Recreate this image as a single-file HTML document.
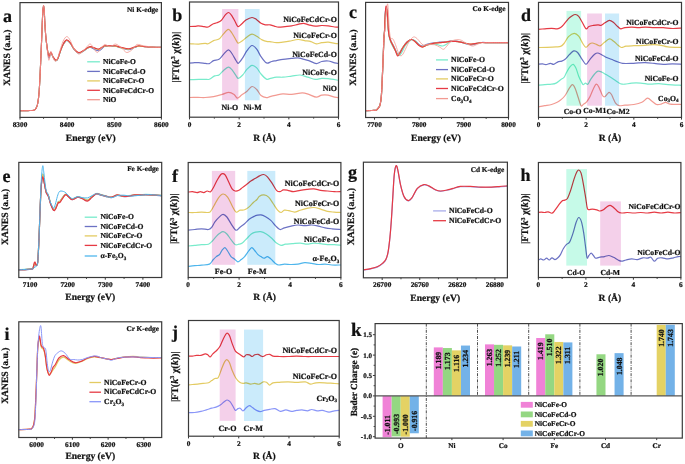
<!DOCTYPE html>
<html><head><meta charset="utf-8"><style>
html,body{margin:0;padding:0;background:#fff;width:685px;height:464px;overflow:hidden}
svg{display:block;filter:blur(0.3px)}
text{font-family:"Liberation Serif",serif;font-weight:bold;text-rendering:geometricPrecision;stroke:#111;stroke-width:0.22px}
</style></head><body>
<svg width="685" height="464" viewBox="0 0 685 464" font-family="Liberation Serif" font-weight="bold">
<rect width="685" height="464" fill="#fff"/>
<clipPath id="cp1"><rect x="20.0" y="2.6" width="141.4" height="114.80000000000001"/></clipPath>
<path d="M20.10,110.80 C21.42,110.77 25.72,110.70 28.00,110.60 C30.28,110.50 32.45,110.60 33.80,110.20 C35.15,109.80 35.45,109.32 36.10,108.20 C36.75,107.08 37.18,106.37 37.70,103.50 C38.22,100.63 38.72,97.62 39.20,91.00 C39.68,84.38 40.20,72.22 40.60,63.80 C41.00,55.38 41.33,46.97 41.60,40.50 C41.87,34.03 42.00,29.75 42.20,25.00 C42.40,20.25 42.57,15.23 42.80,12.00 C43.03,8.77 43.35,5.60 43.60,5.60 C43.85,5.60 44.10,9.27 44.30,12.00 C44.50,14.73 44.55,17.90 44.80,22.00 C45.05,26.10 45.43,32.47 45.80,36.60 C46.17,40.73 46.58,43.78 47.00,46.80 C47.42,49.82 47.92,53.03 48.30,54.70 C48.68,56.37 48.98,56.95 49.30,56.80 C49.62,56.65 49.93,54.48 50.20,53.80 C50.47,53.12 50.60,52.53 50.90,52.70 C51.20,52.87 51.57,53.92 52.00,54.80 C52.43,55.68 52.83,57.02 53.50,58.00 C54.17,58.98 55.25,60.62 56.00,60.70 C56.75,60.78 57.33,59.87 58.00,58.50 C58.67,57.13 59.17,54.77 60.00,52.50 C60.83,50.23 61.88,46.92 63.00,44.90 C64.12,42.88 65.47,40.65 66.70,40.40 C67.93,40.15 69.17,41.92 70.40,43.40 C71.63,44.88 72.73,47.70 74.10,49.30 C75.47,50.90 76.98,52.75 78.60,53.00 C80.22,53.25 82.40,51.55 83.80,50.80 C85.20,50.05 85.88,49.12 87.00,48.50 C88.12,47.88 89.17,47.08 90.50,47.10 C91.83,47.12 93.63,48.18 95.00,48.60 C96.37,49.02 97.62,49.70 98.70,49.60 C99.78,49.50 100.50,48.55 101.50,48.00 C102.50,47.45 103.43,46.58 104.70,46.30 C105.97,46.02 107.37,46.30 109.10,46.30 C110.83,46.30 113.12,46.05 115.10,46.30 C117.08,46.55 118.77,47.30 121.00,47.80 C123.23,48.30 126.27,49.35 128.50,49.30 C130.73,49.25 132.67,48.00 134.40,47.50 C136.13,47.00 137.15,46.45 138.90,46.30 C140.65,46.15 142.92,46.48 144.90,46.60 C146.88,46.72 148.05,46.88 150.80,47.00 C153.55,47.12 159.63,47.25 161.40,47.30" fill="none" stroke="#78EBCB" stroke-width="1.1" stroke-opacity="1.0" stroke-linejoin="round" stroke-linecap="round" clip-path="url(#cp1)" />
<path d="M20.10,110.80 C21.42,110.77 25.72,110.70 28.00,110.60 C30.28,110.50 32.45,110.60 33.80,110.20 C35.15,109.80 35.45,109.32 36.10,108.20 C36.75,107.08 37.18,106.37 37.70,103.50 C38.22,100.63 38.72,97.62 39.20,91.00 C39.68,84.38 40.20,72.22 40.60,63.80 C41.00,55.38 41.33,46.97 41.60,40.50 C41.87,34.03 42.00,29.75 42.20,25.00 C42.40,20.25 42.57,15.23 42.80,12.00 C43.03,8.77 43.35,5.60 43.60,5.60 C43.85,5.60 44.10,9.27 44.30,12.00 C44.50,14.73 44.55,17.90 44.80,22.00 C45.05,26.10 45.43,32.47 45.80,36.60 C46.17,40.73 46.58,43.60 47.00,46.80 C47.42,50.00 47.92,53.95 48.30,55.80 C48.68,57.65 48.98,58.23 49.30,57.90 C49.62,57.57 49.93,54.67 50.20,53.80 C50.47,52.93 50.60,52.53 50.90,52.70 C51.20,52.87 51.57,53.92 52.00,54.80 C52.43,55.68 52.83,57.02 53.50,58.00 C54.17,58.98 55.25,60.62 56.00,60.70 C56.75,60.78 57.33,59.87 58.00,58.50 C58.67,57.13 59.17,54.77 60.00,52.50 C60.83,50.23 61.88,46.92 63.00,44.90 C64.12,42.88 65.47,40.65 66.70,40.40 C67.93,40.15 69.17,41.92 70.40,43.40 C71.63,44.88 72.73,47.70 74.10,49.30 C75.47,50.90 76.98,52.75 78.60,53.00 C80.22,53.25 82.40,51.55 83.80,50.80 C85.20,50.05 85.88,49.12 87.00,48.50 C88.12,47.88 89.17,46.90 90.50,47.10 C91.83,47.30 93.63,49.10 95.00,49.70 C96.37,50.30 97.62,50.80 98.70,50.70 C99.78,50.60 100.50,49.83 101.50,49.10 C102.50,48.37 103.43,46.77 104.70,46.30 C105.97,45.83 107.37,46.30 109.10,46.30 C110.83,46.30 113.12,46.05 115.10,46.30 C117.08,46.55 118.77,47.22 121.00,47.80 C123.23,48.38 126.27,49.85 128.50,49.80 C130.73,49.75 132.67,48.08 134.40,47.50 C136.13,46.92 137.15,46.45 138.90,46.30 C140.65,46.15 142.92,46.48 144.90,46.60 C146.88,46.72 148.05,46.88 150.80,47.00 C153.55,47.12 159.63,47.25 161.40,47.30" fill="none" stroke="#6C72C4" stroke-width="1.1" stroke-opacity="1.0" stroke-linejoin="round" stroke-linecap="round" clip-path="url(#cp1)" />
<path d="M20.10,110.80 C21.42,110.77 25.72,110.70 28.00,110.60 C30.28,110.50 32.45,110.60 33.80,110.20 C35.15,109.80 35.45,109.32 36.10,108.20 C36.75,107.08 37.18,106.37 37.70,103.50 C38.22,100.63 38.72,97.62 39.20,91.00 C39.68,84.38 40.20,72.22 40.60,63.80 C41.00,55.38 41.33,46.97 41.60,40.50 C41.87,34.03 42.00,29.75 42.20,25.00 C42.40,20.25 42.57,15.23 42.80,12.00 C43.03,8.77 43.35,5.60 43.60,5.60 C43.85,5.60 44.10,9.27 44.30,12.00 C44.50,14.73 44.55,17.90 44.80,22.00 C45.05,26.10 45.43,32.50 45.80,36.60 C46.17,40.70 46.58,43.62 47.00,46.60 C47.42,49.58 47.92,52.83 48.30,54.50 C48.68,56.17 48.98,56.75 49.30,56.60 C49.62,56.45 49.93,54.28 50.20,53.60 C50.47,52.92 50.60,52.33 50.90,52.50 C51.20,52.67 51.57,53.72 52.00,54.60 C52.43,55.48 52.83,56.82 53.50,57.80 C54.17,58.78 55.25,60.42 56.00,60.50 C56.75,60.58 57.33,59.67 58.00,58.30 C58.67,56.93 59.17,54.57 60.00,52.30 C60.83,50.03 61.88,46.72 63.00,44.70 C64.12,42.68 65.47,40.45 66.70,40.20 C67.93,39.95 69.17,41.72 70.40,43.20 C71.63,44.68 72.73,47.50 74.10,49.10 C75.47,50.70 76.98,52.55 78.60,52.80 C80.22,53.05 82.40,51.35 83.80,50.60 C85.20,49.85 85.88,48.92 87.00,48.30 C88.12,47.68 89.17,46.88 90.50,46.90 C91.83,46.92 93.63,47.98 95.00,48.40 C96.37,48.82 97.62,49.50 98.70,49.40 C99.78,49.30 100.50,48.35 101.50,47.80 C102.50,47.25 103.43,46.38 104.70,46.10 C105.97,45.82 107.37,46.10 109.10,46.10 C110.83,46.10 113.12,45.85 115.10,46.10 C117.08,46.35 118.77,47.10 121.00,47.60 C123.23,48.10 126.27,49.15 128.50,49.10 C130.73,49.05 132.67,47.80 134.40,47.30 C136.13,46.80 137.15,46.22 138.90,46.10 C140.65,45.98 142.92,46.45 144.90,46.60 C146.88,46.75 148.05,46.88 150.80,47.00 C153.55,47.12 159.63,47.25 161.40,47.30" fill="none" stroke="#E3CB62" stroke-width="1.1" stroke-opacity="1.0" stroke-linejoin="round" stroke-linecap="round" clip-path="url(#cp1)" />
<path d="M20.10,110.80 C21.42,110.77 25.72,110.70 28.00,110.60 C30.28,110.50 32.45,110.60 33.80,110.20 C35.15,109.80 35.45,109.32 36.10,108.20 C36.75,107.08 37.18,106.37 37.70,103.50 C38.22,100.63 38.72,97.62 39.20,91.00 C39.68,84.38 40.20,72.22 40.60,63.80 C41.00,55.38 41.33,46.97 41.60,40.50 C41.87,34.03 42.00,29.75 42.20,25.00 C42.40,20.25 42.57,15.23 42.80,12.00 C43.03,8.77 43.35,5.60 43.60,5.60 C43.85,5.60 44.10,9.27 44.30,12.00 C44.50,14.73 44.55,17.90 44.80,22.00 C45.05,26.10 45.43,32.55 45.80,36.60 C46.17,40.65 46.58,43.37 47.00,46.30 C47.42,49.23 47.92,52.53 48.30,54.20 C48.68,55.87 48.98,56.45 49.30,56.30 C49.62,56.15 49.93,53.98 50.20,53.30 C50.47,52.62 50.60,52.03 50.90,52.20 C51.20,52.37 51.57,53.42 52.00,54.30 C52.43,55.18 52.83,56.52 53.50,57.50 C54.17,58.48 55.25,60.12 56.00,60.20 C56.75,60.28 57.33,59.37 58.00,58.00 C58.67,56.63 59.17,54.27 60.00,52.00 C60.83,49.73 61.88,46.42 63.00,44.40 C64.12,42.38 65.47,40.15 66.70,39.90 C67.93,39.65 69.17,41.42 70.40,42.90 C71.63,44.38 72.73,47.20 74.10,48.80 C75.47,50.40 76.98,52.25 78.60,52.50 C80.22,52.75 82.40,51.05 83.80,50.30 C85.20,49.55 85.88,48.62 87.00,48.00 C88.12,47.38 89.17,46.58 90.50,46.60 C91.83,46.62 93.63,47.68 95.00,48.10 C96.37,48.52 97.62,49.20 98.70,49.10 C99.78,49.00 100.50,48.05 101.50,47.50 C102.50,46.95 103.43,46.08 104.70,45.80 C105.97,45.52 107.37,45.80 109.10,45.80 C110.83,45.80 113.12,45.55 115.10,45.80 C117.08,46.05 118.77,46.80 121.00,47.30 C123.23,47.80 126.27,48.85 128.50,48.80 C130.73,48.75 132.67,47.50 134.40,47.00 C136.13,46.50 137.15,45.87 138.90,45.80 C140.65,45.73 142.92,46.40 144.90,46.60 C146.88,46.80 148.05,46.88 150.80,47.00 C153.55,47.12 159.63,47.25 161.40,47.30" fill="none" stroke="#E63A44" stroke-width="1.1" stroke-opacity="1.0" stroke-linejoin="round" stroke-linecap="round" clip-path="url(#cp1)" />
<path d="M20.10,110.80 C21.42,110.77 25.72,110.70 28.00,110.60 C30.28,110.50 32.45,110.60 33.80,110.20 C35.15,109.80 35.45,109.32 36.10,108.20 C36.75,107.08 37.18,106.37 37.70,103.50 C38.22,100.63 38.72,97.62 39.20,91.00 C39.68,84.38 40.20,72.22 40.60,63.80 C41.00,55.38 41.33,46.97 41.60,40.50 C41.87,34.03 42.00,29.75 42.20,25.00 C42.40,20.25 42.57,15.30 42.80,12.00 C43.03,8.70 43.35,5.20 43.60,5.20 C43.85,5.20 44.10,9.20 44.30,12.00 C44.50,14.80 44.55,17.90 44.80,22.00 C45.05,26.10 45.43,32.35 45.80,36.60 C46.17,40.85 46.60,44.10 47.00,47.50 C47.40,50.90 47.88,54.87 48.20,57.00 C48.52,59.13 48.63,60.30 48.90,60.30 C49.17,60.30 49.47,58.47 49.80,57.00 C50.13,55.53 50.48,51.83 50.90,51.50 C51.32,51.17 51.78,53.58 52.30,55.00 C52.82,56.42 53.38,58.97 54.00,60.00 C54.62,61.03 55.33,61.70 56.00,61.20 C56.67,60.70 57.33,58.78 58.00,57.00 C58.67,55.22 59.13,53.17 60.00,50.50 C60.87,47.83 62.08,43.32 63.20,41.00 C64.32,38.68 65.57,36.77 66.70,36.60 C67.83,36.43 68.85,38.10 70.00,40.00 C71.15,41.90 72.17,45.67 73.60,48.00 C75.03,50.33 76.90,53.58 78.60,54.00 C80.30,54.42 82.32,51.83 83.80,50.50 C85.28,49.17 86.38,47.07 87.50,46.00 C88.62,44.93 89.42,43.68 90.50,44.10 C91.58,44.52 92.88,47.10 94.00,48.50 C95.12,49.90 96.03,52.50 97.20,52.50 C98.37,52.50 99.75,49.85 101.00,48.50 C102.25,47.15 103.35,44.72 104.70,44.40 C106.05,44.08 107.80,46.42 109.10,46.60 C110.40,46.78 111.38,45.92 112.50,45.50 C113.62,45.08 114.38,43.80 115.80,44.10 C117.22,44.40 119.63,46.23 121.00,47.30 C122.37,48.37 123.00,49.63 124.00,50.50 C125.00,51.37 125.75,52.53 127.00,52.50 C128.25,52.47 130.25,51.22 131.50,50.30 C132.75,49.38 133.52,47.98 134.50,47.00 C135.48,46.02 135.92,44.60 137.40,44.40 C138.88,44.20 140.92,45.37 143.40,45.80 C145.88,46.23 149.30,46.75 152.30,47.00 C155.30,47.25 159.88,47.25 161.40,47.30" fill="none" stroke="#F29A92" stroke-width="0.8" stroke-opacity="1.0" stroke-linejoin="round" stroke-linecap="round" clip-path="url(#cp1)" />
<rect x="20.00" y="2.60" width="141.40" height="114.80" fill="none" stroke="#3a3a3a" stroke-width="1.2"/>
<line x1="20.00" y1="117.40" x2="20.00" y2="119.60" stroke="#3a3a3a" stroke-width="1"/>
<text x="20.00" y="127.20" font-size="7.3" text-anchor="middle" fill="#111" >8300</text>
<line x1="67.13" y1="117.40" x2="67.13" y2="119.60" stroke="#3a3a3a" stroke-width="1"/>
<text x="67.13" y="127.20" font-size="7.3" text-anchor="middle" fill="#111" >8400</text>
<line x1="114.27" y1="117.40" x2="114.27" y2="119.60" stroke="#3a3a3a" stroke-width="1"/>
<text x="114.27" y="127.20" font-size="7.3" text-anchor="middle" fill="#111" >8500</text>
<line x1="161.40" y1="117.40" x2="161.40" y2="119.60" stroke="#3a3a3a" stroke-width="1"/>
<text x="161.40" y="127.20" font-size="7.3" text-anchor="middle" fill="#111" >8600</text>
<line x1="43.57" y1="117.40" x2="43.57" y2="118.90" stroke="#3a3a3a" stroke-width="0.9"/>
<line x1="90.70" y1="117.40" x2="90.70" y2="118.90" stroke="#3a3a3a" stroke-width="0.9"/>
<line x1="137.83" y1="117.40" x2="137.83" y2="118.90" stroke="#3a3a3a" stroke-width="0.9"/>
<text x="158.30" y="11.70" font-size="7.25" text-anchor="end" fill="#111" >Ni K-edge</text>
<line x1="87.2" y1="61.8" x2="99.9" y2="61.8" stroke="#78EBCB" stroke-width="1.3"/>
<text x="103.00" y="64.00" font-size="7.5" text-anchor="start" fill="#111" >NiCoFe-O</text>
<line x1="87.2" y1="71.4" x2="99.9" y2="71.4" stroke="#6C72C4" stroke-width="1.3"/>
<text x="103.00" y="73.60" font-size="7.5" text-anchor="start" fill="#111" >NiCoFeCd-O</text>
<line x1="87.2" y1="80.9" x2="99.9" y2="80.9" stroke="#E3CB62" stroke-width="1.3"/>
<text x="103.00" y="83.10" font-size="7.5" text-anchor="start" fill="#111" >NiCoFeCr-O</text>
<line x1="87.2" y1="90.3" x2="99.9" y2="90.3" stroke="#E63A44" stroke-width="1.3"/>
<text x="103.00" y="92.50" font-size="7.5" text-anchor="start" fill="#111" >NiCoFeCdCr-O</text>
<line x1="87.2" y1="99.7" x2="99.9" y2="99.7" stroke="#F29A92" stroke-width="1.3"/>
<text x="103.00" y="101.90" font-size="7.5" text-anchor="start" fill="#111" >NiO</text>
<text x="3.00" y="21.50" font-size="18" text-anchor="start" fill="#111" >a</text>
<text x="90.70" y="141.00" font-size="9.6" text-anchor="middle" fill="#111" >Energy (eV)</text>
<text x="0" y="0" font-size="9.6" text-anchor="middle" transform="translate(10.10,57.60) rotate(-90)" fill="#111" >XANES (a.u.)</text>
<clipPath id="cp2"><rect x="189.5" y="2.0" width="149.0" height="115.2"/></clipPath>
<path d="M188.00,97.50 C189.67,97.48 195.17,97.40 198.00,97.40 C200.83,97.40 202.40,97.63 205.00,97.50 C207.60,97.37 210.73,97.12 213.60,96.60 C216.47,96.08 219.68,95.12 222.20,94.40 C224.72,93.68 226.72,92.30 228.70,92.30 C230.68,92.30 232.67,93.43 234.10,94.40 C235.53,95.37 236.05,97.98 237.30,98.10 C238.55,98.22 239.98,96.25 241.60,95.10 C243.22,93.95 245.27,92.63 247.00,91.20 C248.73,89.77 250.38,86.78 252.00,86.50 C253.62,86.22 255.20,88.00 256.70,89.50 C258.20,91.00 259.38,94.13 261.00,95.50 C262.62,96.87 264.90,97.52 266.40,97.70 C267.90,97.88 268.32,97.03 270.00,96.60 C271.68,96.17 274.35,95.57 276.50,95.10 C278.65,94.63 280.38,93.92 282.90,93.80 C285.42,93.68 288.37,94.55 291.60,94.40 C294.83,94.25 299.43,92.90 302.30,92.90 C305.17,92.90 306.47,93.68 308.80,94.40 C311.13,95.12 314.15,97.08 316.30,97.20 C318.45,97.32 319.72,95.45 321.70,95.10 C323.68,94.75 326.03,94.75 328.20,95.10 C330.37,95.45 332.90,96.77 334.70,97.20 C336.50,97.63 338.28,97.62 339.00,97.70" fill="none" stroke="#F29A92" stroke-width="1.2" stroke-opacity="1.0" stroke-linejoin="round" stroke-linecap="round" clip-path="url(#cp2)" />
<path d="M188.00,79.80 C188.83,79.77 191.20,79.67 193.00,79.60 C194.80,79.53 196.77,79.45 198.80,79.40 C200.83,79.35 203.45,79.32 205.20,79.30 C206.95,79.28 207.72,79.87 209.30,79.30 C210.88,78.73 213.08,76.62 214.70,75.90 C216.32,75.18 217.57,75.87 219.00,75.00 C220.43,74.13 221.75,72.02 223.30,70.70 C224.85,69.38 226.87,67.27 228.30,67.10 C229.73,66.93 230.57,68.20 231.90,69.70 C233.23,71.20 235.22,74.67 236.30,76.10 C237.38,77.53 237.33,78.48 238.40,78.30 C239.47,78.12 241.27,76.52 242.70,75.00 C244.13,73.48 245.45,70.82 247.00,69.20 C248.55,67.58 250.38,65.52 252.00,65.30 C253.62,65.08 255.20,66.45 256.70,67.90 C258.20,69.35 259.38,72.13 261.00,74.00 C262.62,75.87 264.95,78.33 266.40,79.10 C267.85,79.87 268.02,78.92 269.70,78.60 C271.38,78.28 274.30,77.43 276.50,77.20 C278.70,76.97 280.38,77.38 282.90,77.20 C285.42,77.02 288.72,76.47 291.60,76.10 C294.48,75.73 297.52,74.82 300.20,75.00 C302.88,75.18 305.18,76.47 307.70,77.20 C310.22,77.93 312.97,79.22 315.30,79.40 C317.63,79.58 319.55,78.42 321.70,78.30 C323.85,78.18 325.32,78.35 328.20,78.70 C331.08,79.05 337.20,80.12 339.00,80.40" fill="none" stroke="#78EBCB" stroke-width="1.2" stroke-opacity="1.0" stroke-linejoin="round" stroke-linecap="round" clip-path="url(#cp2)" />
<path d="M188.00,63.10 C188.83,63.05 191.20,62.88 193.00,62.80 C194.80,62.72 196.77,62.52 198.80,62.60 C200.83,62.68 203.45,63.13 205.20,63.30 C206.95,63.47 207.90,64.05 209.30,63.60 C210.70,63.15 211.98,61.32 213.60,60.60 C215.22,59.88 217.38,60.30 219.00,59.30 C220.62,58.30 221.75,56.18 223.30,54.60 C224.85,53.02 226.87,49.98 228.30,49.80 C229.73,49.62 230.57,51.63 231.90,53.50 C233.23,55.37 235.22,59.38 236.30,61.00 C237.38,62.62 237.33,63.73 238.40,63.20 C239.47,62.67 241.27,59.88 242.70,57.80 C244.13,55.72 245.45,52.75 247.00,50.70 C248.55,48.65 250.38,45.75 252.00,45.50 C253.62,45.25 255.20,47.33 256.70,49.20 C258.20,51.07 259.57,54.55 261.00,56.70 C262.43,58.85 264.22,61.02 265.30,62.10 C266.38,63.18 266.42,63.30 267.50,63.20 C268.58,63.10 270.30,61.93 271.80,61.50 C273.30,61.07 274.65,60.97 276.50,60.60 C278.35,60.23 280.38,59.67 282.90,59.30 C285.42,58.93 289.08,58.65 291.60,58.40 C294.12,58.15 296.22,57.72 298.00,57.80 C299.78,57.88 300.50,58.43 302.30,58.90 C304.10,59.37 306.47,59.82 308.80,60.60 C311.13,61.38 314.15,63.45 316.30,63.60 C318.45,63.75 319.72,61.93 321.70,61.50 C323.68,61.07 326.03,60.78 328.20,61.00 C330.37,61.22 332.90,62.37 334.70,62.80 C336.50,63.23 338.28,63.47 339.00,63.60" fill="none" stroke="#6C72C4" stroke-width="1.2" stroke-opacity="1.0" stroke-linejoin="round" stroke-linecap="round" clip-path="url(#cp2)" />
<path d="M188.00,43.70 C188.83,43.73 191.20,43.83 193.00,43.90 C194.80,43.97 196.77,44.20 198.80,44.10 C200.83,44.00 203.63,43.35 205.20,43.30 C206.77,43.25 206.80,44.25 208.20,43.80 C209.60,43.35 211.80,41.38 213.60,40.60 C215.40,39.82 217.38,40.18 219.00,39.10 C220.62,38.02 221.75,35.72 223.30,34.10 C224.85,32.48 226.87,29.58 228.30,29.40 C229.73,29.22 230.57,31.13 231.90,33.00 C233.23,34.87 235.22,38.92 236.30,40.60 C237.38,42.28 237.33,43.10 238.40,43.10 C239.47,43.10 241.27,41.63 242.70,40.60 C244.13,39.57 245.45,37.98 247.00,36.90 C248.55,35.82 250.38,34.20 252.00,34.10 C253.62,34.00 255.02,35.33 256.70,36.30 C258.38,37.27 260.30,39.02 262.10,39.90 C263.90,40.78 266.18,41.32 267.50,41.60 C268.82,41.88 268.50,41.42 270.00,41.60 C271.50,41.78 274.35,42.62 276.50,42.70 C278.65,42.78 280.75,42.35 282.90,42.10 C285.05,41.85 286.88,41.63 289.40,41.20 C291.92,40.77 295.48,39.60 298.00,39.50 C300.52,39.40 302.35,40.25 304.50,40.60 C306.65,40.95 308.93,41.07 310.90,41.60 C312.87,42.13 314.50,43.62 316.30,43.80 C318.10,43.98 319.72,42.98 321.70,42.70 C323.68,42.42 326.03,41.98 328.20,42.10 C330.37,42.22 332.90,43.12 334.70,43.40 C336.50,43.68 338.28,43.73 339.00,43.80" fill="none" stroke="#E3CB62" stroke-width="1.2" stroke-opacity="1.0" stroke-linejoin="round" stroke-linecap="round" clip-path="url(#cp2)" />
<path d="M188.00,26.50 C189.08,26.48 192.83,26.50 194.50,26.40 C196.17,26.30 196.93,25.95 198.00,25.90 C199.07,25.85 199.88,25.98 200.90,26.10 C201.92,26.22 202.88,26.45 204.10,26.60 C205.32,26.75 206.80,27.40 208.20,27.00 C209.60,26.60 211.05,24.90 212.50,24.20 C213.95,23.50 215.45,23.42 216.90,22.80 C218.35,22.18 219.77,21.85 221.20,20.50 C222.63,19.15 224.25,16.03 225.50,14.70 C226.75,13.37 227.63,12.32 228.70,12.50 C229.77,12.68 230.82,14.25 231.90,15.80 C232.98,17.35 234.18,20.00 235.20,21.80 C236.22,23.60 236.93,26.23 238.00,26.60 C239.07,26.97 240.28,25.08 241.60,24.00 C242.92,22.92 244.17,21.18 245.90,20.10 C247.63,19.02 250.20,17.57 252.00,17.50 C253.80,17.43 255.20,18.73 256.70,19.70 C258.20,20.67 259.57,22.45 261.00,23.30 C262.43,24.15 263.80,24.55 265.30,24.80 C266.80,25.05 268.50,24.58 270.00,24.80 C271.50,25.02 272.87,25.70 274.30,26.10 C275.73,26.50 276.80,27.12 278.60,27.20 C280.40,27.28 282.93,26.82 285.10,26.60 C287.27,26.38 289.45,26.27 291.60,25.90 C293.75,25.53 296.03,24.83 298.00,24.40 C299.97,23.97 301.60,23.23 303.40,23.30 C305.20,23.37 306.82,24.33 308.80,24.80 C310.78,25.27 313.15,25.98 315.30,26.10 C317.45,26.22 319.55,25.53 321.70,25.50 C323.85,25.47 326.03,25.65 328.20,25.90 C330.37,26.15 332.90,26.78 334.70,27.00 C336.50,27.22 338.28,27.17 339.00,27.20" fill="none" stroke="#E63A44" stroke-width="1.2" stroke-opacity="1.0" stroke-linejoin="round" stroke-linecap="round" clip-path="url(#cp2)" />
<rect x="222.10" y="9.00" width="16.30" height="91.30" fill="#F4D0EA" style="mix-blend-mode:multiply"/>
<rect x="244.90" y="9.00" width="14.70" height="91.30" fill="#CBEBFB" style="mix-blend-mode:multiply"/>
<rect x="189.50" y="2.00" width="149.00" height="115.20" fill="none" stroke="#3a3a3a" stroke-width="1.2"/>
<line x1="189.50" y1="117.20" x2="189.50" y2="119.40" stroke="#3a3a3a" stroke-width="1"/>
<text x="189.50" y="127.00" font-size="7.3" text-anchor="middle" fill="#111" >0</text>
<line x1="239.17" y1="117.20" x2="239.17" y2="119.40" stroke="#3a3a3a" stroke-width="1"/>
<text x="239.17" y="127.00" font-size="7.3" text-anchor="middle" fill="#111" >2</text>
<line x1="288.83" y1="117.20" x2="288.83" y2="119.40" stroke="#3a3a3a" stroke-width="1"/>
<text x="288.83" y="127.00" font-size="7.3" text-anchor="middle" fill="#111" >4</text>
<line x1="338.50" y1="117.20" x2="338.50" y2="119.40" stroke="#3a3a3a" stroke-width="1"/>
<text x="338.50" y="127.00" font-size="7.3" text-anchor="middle" fill="#111" >6</text>
<line x1="214.33" y1="117.20" x2="214.33" y2="118.70" stroke="#3a3a3a" stroke-width="0.9"/>
<line x1="264.00" y1="117.20" x2="264.00" y2="118.70" stroke="#3a3a3a" stroke-width="0.9"/>
<line x1="313.67" y1="117.20" x2="313.67" y2="118.70" stroke="#3a3a3a" stroke-width="0.9"/>
<text x="336.90" y="21.60" font-size="7.9" text-anchor="end" fill="#111" >NiCoFeCdCr-O</text>
<text x="336.90" y="38.20" font-size="7.9" text-anchor="end" fill="#111" >NiCoFeCr-O</text>
<text x="336.90" y="56.60" font-size="7.9" text-anchor="end" fill="#111" >NiCoFeCd-O</text>
<text x="336.90" y="74.60" font-size="7.9" text-anchor="end" fill="#111" >NiCoFe-O</text>
<text x="336.90" y="91.00" font-size="7.9" text-anchor="end" fill="#111" >NiO</text>
<text x="229.90" y="110.00" font-size="7.9" text-anchor="middle" fill="#111" >Ni-O</text>
<text x="252.60" y="110.00" font-size="7.9" text-anchor="middle" fill="#111" >Ni-M</text>
<text x="172.30" y="20.70" font-size="18" text-anchor="start" fill="#111" >b</text>
<text x="264.50" y="140.80" font-size="9.6" text-anchor="middle" fill="#111" >R (Å)</text>
<text x="0" y="0" font-size="10" text-anchor="middle" transform="translate(178.60,57.20) rotate(-90)" fill="#111" >|FT(<tspan font-style="italic">k</tspan><tspan font-size="6" dy="-3.5">3</tspan><tspan dy="3.5"> χ(</tspan><tspan font-style="italic">k</tspan>))|</text>
<clipPath id="cp3"><rect x="365.6" y="2.4" width="142.89999999999998" height="115.1"/></clipPath>
<path d="M365.60,110.60 C366.67,110.58 370.27,110.57 372.00,110.50 C373.73,110.43 375.00,110.57 376.00,110.20 C377.00,109.83 377.38,109.00 378.00,108.30 C378.62,107.60 379.27,107.05 379.70,106.00 C380.13,104.95 380.30,104.00 380.60,102.00 C380.90,100.00 381.13,99.90 381.50,94.00 C381.87,88.10 382.40,75.75 382.80,66.60 C383.20,57.45 383.60,45.20 383.90,39.10 C384.20,33.00 384.38,34.02 384.60,30.00 C384.82,25.98 384.97,18.58 385.20,15.00 C385.43,11.42 385.73,9.33 386.00,8.50 C386.27,7.67 386.52,8.08 386.80,10.00 C387.08,11.92 387.43,16.50 387.70,20.00 C387.97,23.50 388.15,28.17 388.40,31.00 C388.65,33.83 388.82,35.17 389.20,37.00 C389.58,38.83 390.00,40.25 390.70,42.00 C391.40,43.75 392.52,45.92 393.40,47.50 C394.28,49.08 395.07,50.15 396.00,51.50 C396.93,52.85 398.00,55.52 399.00,55.60 C400.00,55.68 401.00,53.60 402.00,52.00 C403.00,50.40 403.83,47.75 405.00,46.00 C406.17,44.25 407.75,42.58 409.00,41.50 C410.25,40.42 411.33,39.50 412.50,39.50 C413.67,39.50 414.83,40.50 416.00,41.50 C417.17,42.50 418.33,44.67 419.50,45.50 C420.67,46.33 421.75,46.55 423.00,46.50 C424.25,46.45 425.43,45.62 427.00,45.20 C428.57,44.78 430.73,44.12 432.40,44.00 C434.07,43.88 435.35,44.17 437.00,44.50 C438.65,44.83 440.80,46.00 442.30,46.00 C443.80,46.00 444.68,45.20 446.00,44.50 C447.32,43.80 448.62,42.32 450.20,41.80 C451.78,41.28 453.75,41.35 455.50,41.40 C457.25,41.45 458.95,41.73 460.70,42.10 C462.45,42.47 464.25,43.20 466.00,43.60 C467.75,44.00 469.45,44.53 471.20,44.50 C472.95,44.47 474.73,43.73 476.50,43.40 C478.27,43.07 479.83,42.62 481.80,42.50 C483.77,42.38 485.90,42.67 488.30,42.70 C490.70,42.73 492.75,42.70 496.20,42.70 C499.65,42.70 506.87,42.70 509.00,42.70" fill="none" stroke="#78EBCB" stroke-width="1.2" stroke-opacity="1.0" stroke-linejoin="round" stroke-linecap="round" clip-path="url(#cp3)" />
<path d="M365.60,110.60 C366.67,110.58 370.27,110.57 372.00,110.50 C373.73,110.43 375.00,110.57 376.00,110.20 C377.00,109.83 377.38,109.00 378.00,108.30 C378.62,107.60 379.27,107.05 379.70,106.00 C380.13,104.95 380.30,104.00 380.60,102.00 C380.90,100.00 381.13,99.90 381.50,94.00 C381.87,88.10 382.40,75.75 382.80,66.60 C383.20,57.45 383.60,45.20 383.90,39.10 C384.20,33.00 384.38,34.02 384.60,30.00 C384.82,25.98 384.97,18.50 385.20,15.00 C385.43,11.50 385.73,9.83 386.00,9.00 C386.27,8.17 386.52,8.33 386.80,10.00 C387.08,11.67 387.43,15.67 387.70,19.00 C387.97,22.33 388.15,27.17 388.40,30.00 C388.65,32.83 388.82,34.25 389.20,36.00 C389.58,37.75 390.00,38.92 390.70,40.50 C391.40,42.08 392.60,43.92 393.40,45.50 C394.20,47.08 394.78,48.50 395.50,50.00 C396.22,51.50 396.95,54.17 397.70,54.50 C398.45,54.83 399.12,53.25 400.00,52.00 C400.88,50.75 401.83,48.67 403.00,47.00 C404.17,45.33 405.63,43.25 407.00,42.00 C408.37,40.75 409.87,39.62 411.20,39.50 C412.53,39.38 413.70,40.42 415.00,41.30 C416.30,42.18 417.73,43.98 419.00,44.80 C420.27,45.62 421.27,46.28 422.60,46.20 C423.93,46.12 425.37,44.83 427.00,44.30 C428.63,43.77 430.28,43.35 432.40,43.00 C434.52,42.65 437.60,42.40 439.70,42.20 C441.80,42.00 443.25,41.97 445.00,41.80 C446.75,41.63 448.45,41.30 450.20,41.20 C451.95,41.10 453.75,41.05 455.50,41.20 C457.25,41.35 458.95,41.70 460.70,42.10 C462.45,42.50 464.25,43.15 466.00,43.60 C467.75,44.05 469.45,44.80 471.20,44.80 C472.95,44.80 474.73,43.98 476.50,43.60 C478.27,43.22 479.83,42.65 481.80,42.50 C483.77,42.35 485.90,42.67 488.30,42.70 C490.70,42.73 492.75,42.70 496.20,42.70 C499.65,42.70 506.87,42.70 509.00,42.70" fill="none" stroke="#6C72C4" stroke-width="1.2" stroke-opacity="1.0" stroke-linejoin="round" stroke-linecap="round" clip-path="url(#cp3)" />
<path d="M365.60,110.60 C366.67,110.58 370.27,110.57 372.00,110.50 C373.73,110.43 375.00,110.57 376.00,110.20 C377.00,109.83 377.38,109.00 378.00,108.30 C378.62,107.60 379.27,107.05 379.70,106.00 C380.13,104.95 380.30,104.00 380.60,102.00 C380.90,100.00 381.13,99.90 381.50,94.00 C381.87,88.10 382.40,75.75 382.80,66.60 C383.20,57.45 383.60,45.20 383.90,39.10 C384.20,33.00 384.38,33.85 384.60,30.00 C384.82,26.15 384.98,19.17 385.20,16.00 C385.42,12.83 385.63,12.00 385.90,11.00 C386.17,10.00 386.50,8.83 386.80,10.00 C387.10,11.17 387.43,14.67 387.70,18.00 C387.97,21.33 388.15,27.00 388.40,30.00 C388.65,33.00 388.82,34.17 389.20,36.00 C389.58,37.83 390.00,39.30 390.70,41.00 C391.40,42.70 392.60,44.62 393.40,46.20 C394.20,47.78 394.78,49.00 395.50,50.50 C396.22,52.00 396.95,54.87 397.70,55.20 C398.45,55.53 399.12,53.83 400.00,52.50 C400.88,51.17 401.83,48.92 403.00,47.20 C404.17,45.48 405.63,43.48 407.00,42.20 C408.37,40.92 409.87,39.62 411.20,39.50 C412.53,39.38 413.70,40.53 415.00,41.50 C416.30,42.47 417.73,44.42 419.00,45.30 C420.27,46.18 421.27,46.85 422.60,46.80 C423.93,46.75 425.37,45.53 427.00,45.00 C428.63,44.47 430.28,43.98 432.40,43.60 C434.52,43.22 437.60,42.95 439.70,42.70 C441.80,42.45 443.25,42.32 445.00,42.10 C446.75,41.88 448.45,41.52 450.20,41.40 C451.95,41.28 453.75,41.28 455.50,41.40 C457.25,41.52 458.95,41.77 460.70,42.10 C462.45,42.43 464.25,43.07 466.00,43.40 C467.75,43.73 469.45,44.10 471.20,44.10 C472.95,44.10 474.73,43.67 476.50,43.40 C478.27,43.13 479.83,42.62 481.80,42.50 C483.77,42.38 485.90,42.67 488.30,42.70 C490.70,42.73 492.75,42.70 496.20,42.70 C499.65,42.70 506.87,42.70 509.00,42.70" fill="none" stroke="#E3CB62" stroke-width="1.2" stroke-opacity="1.0" stroke-linejoin="round" stroke-linecap="round" clip-path="url(#cp3)" />
<path d="M365.60,110.60 C366.67,110.58 370.27,110.57 372.00,110.50 C373.73,110.43 375.00,110.57 376.00,110.20 C377.00,109.83 377.38,109.00 378.00,108.30 C378.62,107.60 379.27,107.05 379.70,106.00 C380.13,104.95 380.30,104.00 380.60,102.00 C380.90,100.00 381.13,99.90 381.50,94.00 C381.87,88.10 382.40,75.75 382.80,66.60 C383.20,57.45 383.60,45.20 383.90,39.10 C384.20,33.00 384.38,34.02 384.60,30.00 C384.82,25.98 384.98,18.87 385.20,15.00 C385.42,11.13 385.63,7.97 385.90,6.80 C386.17,5.63 386.50,6.13 386.80,8.00 C387.10,9.87 387.43,14.33 387.70,18.00 C387.97,21.67 388.15,27.00 388.40,30.00 C388.65,33.00 388.82,34.17 389.20,36.00 C389.58,37.83 390.00,39.25 390.70,41.00 C391.40,42.75 392.60,44.83 393.40,46.50 C394.20,48.17 394.78,49.42 395.50,51.00 C396.22,52.58 396.95,55.67 397.70,56.00 C398.45,56.33 399.12,54.42 400.00,53.00 C400.88,51.58 401.83,49.28 403.00,47.50 C404.17,45.72 405.63,43.63 407.00,42.30 C408.37,40.97 409.87,39.63 411.20,39.50 C412.53,39.37 413.70,40.50 415.00,41.50 C416.30,42.50 417.73,44.57 419.00,45.50 C420.27,46.43 421.27,47.18 422.60,47.10 C423.93,47.02 425.37,45.58 427.00,45.00 C428.63,44.42 430.28,43.98 432.40,43.60 C434.52,43.22 437.60,42.95 439.70,42.70 C441.80,42.45 443.25,42.32 445.00,42.10 C446.75,41.88 448.45,41.52 450.20,41.40 C451.95,41.28 453.75,41.28 455.50,41.40 C457.25,41.52 458.95,41.77 460.70,42.10 C462.45,42.43 464.25,43.07 466.00,43.40 C467.75,43.73 469.45,44.10 471.20,44.10 C472.95,44.10 474.73,43.67 476.50,43.40 C478.27,43.13 479.83,42.62 481.80,42.50 C483.77,42.38 485.90,42.67 488.30,42.70 C490.70,42.73 492.75,42.70 496.20,42.70 C499.65,42.70 506.87,42.70 509.00,42.70" fill="none" stroke="#E63A44" stroke-width="1.2" stroke-opacity="1.0" stroke-linejoin="round" stroke-linecap="round" clip-path="url(#cp3)" />
<path d="M365.60,110.60 C366.67,110.58 370.27,110.57 372.00,110.50 C373.73,110.43 375.00,110.57 376.00,110.20 C377.00,109.83 377.38,109.00 378.00,108.30 C378.62,107.60 379.27,107.05 379.70,106.00 C380.13,104.95 380.30,104.00 380.60,102.00 C380.90,100.00 381.13,99.90 381.50,94.00 C381.87,88.10 382.40,75.75 382.80,66.60 C383.20,57.45 383.65,44.37 383.90,39.10 C384.15,33.83 384.07,37.35 384.30,35.00 C384.53,32.65 384.97,28.83 385.30,25.00 C385.63,21.17 385.98,15.33 386.30,12.00 C386.62,8.67 386.95,6.25 387.20,5.00 C387.45,3.75 387.60,3.33 387.80,4.50 C388.00,5.67 388.20,8.58 388.40,12.00 C388.60,15.42 388.77,21.33 389.00,25.00 C389.23,28.67 389.48,31.75 389.80,34.00 C390.12,36.25 390.48,37.75 390.90,38.50 C391.32,39.25 391.80,38.13 392.30,38.50 C392.80,38.87 393.28,39.45 393.90,40.70 C394.52,41.95 395.23,43.95 396.00,46.00 C396.77,48.05 397.72,51.37 398.50,53.00 C399.28,54.63 399.95,55.63 400.70,55.80 C401.45,55.97 402.12,55.30 403.00,54.00 C403.88,52.70 404.92,50.17 406.00,48.00 C407.08,45.83 408.25,42.83 409.50,41.00 C410.75,39.17 412.25,37.42 413.50,37.00 C414.75,36.58 415.83,37.58 417.00,38.50 C418.17,39.42 419.45,41.42 420.50,42.50 C421.55,43.58 422.07,44.63 423.30,45.00 C424.53,45.37 426.03,44.75 427.90,44.70 C429.77,44.65 432.53,44.30 434.50,44.70 C436.47,45.10 438.22,46.33 439.70,47.10 C441.18,47.87 442.30,49.37 443.40,49.30 C444.50,49.23 445.17,47.90 446.30,46.70 C447.43,45.50 448.88,43.20 450.20,42.10 C451.52,41.00 452.67,40.50 454.20,40.10 C455.73,39.70 457.87,39.48 459.40,39.70 C460.93,39.92 462.08,40.67 463.40,41.40 C464.72,42.13 465.77,43.33 467.30,44.10 C468.83,44.87 471.07,45.90 472.60,46.00 C474.13,46.10 475.20,45.18 476.50,44.70 C477.80,44.22 478.87,43.43 480.40,43.10 C481.93,42.77 483.50,42.77 485.70,42.70 C487.90,42.63 489.72,42.70 493.60,42.70 C497.48,42.70 506.43,42.70 509.00,42.70" fill="none" stroke="#F29A92" stroke-width="0.8" stroke-opacity="1.0" stroke-linejoin="round" stroke-linecap="round" clip-path="url(#cp3)" />
<rect x="365.60" y="2.40" width="142.90" height="115.10" fill="none" stroke="#3a3a3a" stroke-width="1.2"/>
<line x1="374.53" y1="117.50" x2="374.53" y2="119.70" stroke="#3a3a3a" stroke-width="1"/>
<text x="374.53" y="127.20" font-size="7.3" text-anchor="middle" fill="#111" >7700</text>
<line x1="419.19" y1="117.50" x2="419.19" y2="119.70" stroke="#3a3a3a" stroke-width="1"/>
<text x="419.19" y="127.20" font-size="7.3" text-anchor="middle" fill="#111" >7800</text>
<line x1="463.84" y1="117.50" x2="463.84" y2="119.70" stroke="#3a3a3a" stroke-width="1"/>
<text x="463.84" y="127.20" font-size="7.3" text-anchor="middle" fill="#111" >7900</text>
<line x1="508.50" y1="117.50" x2="508.50" y2="119.70" stroke="#3a3a3a" stroke-width="1"/>
<text x="508.50" y="127.20" font-size="7.3" text-anchor="middle" fill="#111" >8000</text>
<line x1="396.86" y1="117.50" x2="396.86" y2="119.00" stroke="#3a3a3a" stroke-width="0.9"/>
<line x1="441.52" y1="117.50" x2="441.52" y2="119.00" stroke="#3a3a3a" stroke-width="0.9"/>
<line x1="486.17" y1="117.50" x2="486.17" y2="119.00" stroke="#3a3a3a" stroke-width="0.9"/>
<text x="505.50" y="11.20" font-size="7.3" text-anchor="end" fill="#111" >Co K-edge</text>
<line x1="436.0" y1="59.9" x2="448" y2="59.9" stroke="#78EBCB" stroke-width="1.3"/>
<text x="451.10" y="62.10" font-size="7.75" text-anchor="start" fill="#111" >NiCoFe-O</text>
<line x1="436.0" y1="69.6" x2="448" y2="69.6" stroke="#6C72C4" stroke-width="1.3"/>
<text x="451.10" y="71.80" font-size="7.75" text-anchor="start" fill="#111" >NiCoFeCd-O</text>
<line x1="436.0" y1="78.9" x2="448" y2="78.9" stroke="#E3CB62" stroke-width="1.3"/>
<text x="451.10" y="81.10" font-size="7.75" text-anchor="start" fill="#111" >NiCoFeCr-O</text>
<line x1="436.0" y1="88.5" x2="448" y2="88.5" stroke="#E63A44" stroke-width="1.3"/>
<text x="451.10" y="90.70" font-size="7.75" text-anchor="start" fill="#111" >NiCoFeCdCr-O</text>
<line x1="436.0" y1="98.6" x2="448" y2="98.6" stroke="#F29A92" stroke-width="1.3"/>
<text x="451.10" y="100.80" font-size="7.75" text-anchor="start" fill="#111" >Co<tspan font-size="5" dy="1.8">3</tspan><tspan dy="-1.8">O</tspan><tspan font-size="5" dy="1.8">4</tspan></text>
<text x="349.00" y="18.20" font-size="18" text-anchor="start" fill="#111" >c</text>
<text x="436.00" y="141.20" font-size="9.6" text-anchor="middle" fill="#111" >Energy (eV)</text>
<text x="0" y="0" font-size="9.6" text-anchor="middle" transform="translate(355.70,57.50) rotate(-90)" fill="#111" >XANES (a.u.)</text>
<clipPath id="cp4"><rect x="538.5" y="2.4" width="143.0" height="115.0"/></clipPath>
<path d="M538.00,106.80 C539.13,106.62 542.53,106.08 544.80,105.70 C547.07,105.32 549.53,105.07 551.60,104.50 C553.67,103.93 555.70,103.05 557.20,102.30 C558.70,101.55 559.28,101.13 560.60,100.00 C561.92,98.87 563.58,97.57 565.10,95.50 C566.62,93.43 568.45,89.42 569.70,87.60 C570.95,85.78 571.67,84.42 572.60,84.60 C573.53,84.78 574.35,86.50 575.30,88.70 C576.25,90.90 577.35,94.97 578.30,97.80 C579.25,100.63 580.18,104.58 581.00,105.70 C581.82,106.82 582.27,105.15 583.20,104.50 C584.13,103.85 585.47,103.12 586.60,101.80 C587.73,100.48 588.87,98.78 590.00,96.60 C591.13,94.42 592.33,90.77 593.40,88.70 C594.47,86.63 595.45,84.38 596.40,84.20 C597.35,84.02 598.08,85.72 599.10,87.60 C600.12,89.48 601.57,93.97 602.50,95.50 C603.43,97.03 603.90,97.05 604.70,96.80 C605.50,96.55 606.55,94.75 607.30,94.00 C608.05,93.25 608.50,92.22 609.20,92.30 C609.90,92.38 610.78,93.38 611.50,94.50 C612.22,95.62 612.78,97.52 613.50,99.00 C614.22,100.48 614.85,102.28 615.80,103.40 C616.75,104.52 617.68,105.40 619.20,105.70 C620.72,106.00 622.45,105.40 624.90,105.20 C627.35,105.00 631.07,104.98 633.90,104.50 C636.73,104.02 639.63,103.35 641.90,102.30 C644.17,101.25 645.82,98.38 647.50,98.20 C649.18,98.02 650.48,100.15 652.00,101.20 C653.52,102.25 655.08,104.02 656.60,104.50 C658.12,104.98 659.60,104.47 661.10,104.10 C662.60,103.73 664.10,102.30 665.60,102.30 C667.10,102.30 667.37,103.73 670.10,104.10 C672.83,104.47 680.02,104.43 682.00,104.50" fill="none" stroke="#F29A92" stroke-width="1.2" stroke-opacity="1.0" stroke-linejoin="round" stroke-linecap="round" clip-path="url(#cp4)" />
<path d="M538.00,85.30 C539.13,85.18 542.53,84.78 544.80,84.60 C547.07,84.42 549.72,84.45 551.60,84.20 C553.48,83.95 554.60,83.85 556.10,83.10 C557.60,82.35 559.28,80.65 560.60,79.70 C561.92,78.75 563.05,78.53 564.00,77.40 C564.95,76.27 565.35,74.60 566.30,72.90 C567.25,71.20 568.57,68.63 569.70,67.20 C570.83,65.77 572.05,64.12 573.10,64.30 C574.15,64.48 575.07,66.30 576.00,68.30 C576.93,70.30 577.80,74.03 578.70,76.30 C579.60,78.57 580.65,80.52 581.40,81.90 C582.15,83.28 582.52,84.40 583.20,84.60 C583.88,84.80 584.73,83.17 585.50,83.10 C586.27,83.03 586.97,84.77 587.80,84.20 C588.63,83.63 589.37,81.40 590.50,79.70 C591.63,78.00 593.35,75.43 594.60,74.00 C595.85,72.57 596.77,71.40 598.00,71.10 C599.23,70.80 600.67,71.63 602.00,72.20 C603.33,72.77 604.63,73.72 606.00,74.50 C607.37,75.28 608.57,75.85 610.20,76.90 C611.83,77.95 614.10,79.67 615.80,80.80 C617.50,81.93 618.88,83.13 620.40,83.70 C621.92,84.27 623.02,84.30 624.90,84.20 C626.78,84.10 629.07,83.28 631.70,83.10 C634.33,82.92 637.68,82.92 640.70,83.10 C643.72,83.28 646.78,84.10 649.80,84.20 C652.82,84.30 655.78,83.63 658.80,83.70 C661.82,83.77 664.03,84.33 667.90,84.60 C671.77,84.87 679.65,85.18 682.00,85.30" fill="none" stroke="#78EBCB" stroke-width="1.2" stroke-opacity="1.0" stroke-linejoin="round" stroke-linecap="round" clip-path="url(#cp4)" />
<path d="M538.00,64.30 C538.75,64.22 541.18,63.73 542.50,63.80 C543.82,63.87 544.58,64.77 545.90,64.70 C547.22,64.63 549.08,63.47 550.40,63.40 C551.72,63.33 552.47,64.60 553.80,64.30 C555.13,64.00 557.07,62.13 558.40,61.60 C559.73,61.07 560.68,61.48 561.80,61.10 C562.92,60.72 563.78,60.43 565.10,59.30 C566.42,58.17 568.27,55.70 569.70,54.30 C571.13,52.90 572.38,51.20 573.70,50.90 C575.02,50.60 576.20,51.10 577.60,52.50 C579.00,53.90 580.70,57.33 582.10,59.30 C583.50,61.27 584.68,64.30 586.00,64.30 C587.32,64.30 588.57,60.97 590.00,59.30 C591.43,57.63 593.27,55.35 594.60,54.30 C595.93,53.25 596.68,52.85 598.00,53.00 C599.32,53.15 601.17,54.50 602.50,55.20 C603.83,55.90 604.53,56.52 606.00,57.20 C607.47,57.88 609.28,58.50 611.30,59.30 C613.32,60.10 616.22,61.32 618.10,62.00 C619.98,62.68 620.33,63.17 622.60,63.40 C624.87,63.63 629.05,63.48 631.70,63.40 C634.35,63.32 636.25,63.02 638.50,62.90 C640.75,62.78 642.57,62.62 645.20,62.70 C647.83,62.78 651.28,63.13 654.30,63.40 C657.32,63.67 660.28,64.23 663.30,64.30 C666.32,64.37 669.28,63.80 672.40,63.80 C675.52,63.80 680.40,64.22 682.00,64.30" fill="none" stroke="#6C72C4" stroke-width="1.2" stroke-opacity="1.0" stroke-linejoin="round" stroke-linecap="round" clip-path="url(#cp4)" />
<path d="M538.00,47.50 C539.50,47.47 543.98,47.40 547.00,47.30 C550.02,47.20 553.83,47.05 556.10,46.90 C558.37,46.75 559.28,46.97 560.60,46.40 C561.92,45.83 562.68,45.12 564.00,43.50 C565.32,41.88 566.80,38.40 568.50,36.70 C570.20,35.00 572.50,33.38 574.20,33.30 C575.90,33.22 577.27,34.50 578.70,36.20 C580.13,37.90 581.58,41.65 582.80,43.50 C584.02,45.35 584.87,47.23 586.00,47.30 C587.13,47.37 588.55,44.62 589.60,43.90 C590.65,43.18 591.10,42.88 592.30,43.00 C593.50,43.12 595.48,44.12 596.80,44.60 C598.12,45.08 598.92,46.28 600.20,45.90 C601.48,45.52 602.95,43.47 604.50,42.30 C606.05,41.13 607.98,39.08 609.50,38.90 C611.02,38.72 612.17,40.13 613.60,41.20 C615.03,42.27 616.78,44.25 618.10,45.30 C619.42,46.35 620.18,47.35 621.50,47.50 C622.82,47.65 623.93,46.50 626.00,46.20 C628.07,45.90 630.70,45.85 633.90,45.70 C637.10,45.55 641.80,45.48 645.20,45.30 C648.60,45.12 651.65,44.60 654.30,44.60 C656.95,44.60 658.83,44.92 661.10,45.30 C663.37,45.68 664.42,46.53 667.90,46.90 C671.38,47.27 679.65,47.40 682.00,47.50" fill="none" stroke="#E3CB62" stroke-width="1.2" stroke-opacity="1.0" stroke-linejoin="round" stroke-linecap="round" clip-path="url(#cp4)" />
<path d="M538.00,29.40 C539.13,29.30 542.53,28.98 544.80,28.80 C547.07,28.62 549.53,28.30 551.60,28.30 C553.67,28.30 555.70,28.92 557.20,28.80 C558.70,28.68 559.47,28.37 560.60,27.60 C561.73,26.83 562.68,25.70 564.00,24.20 C565.32,22.70 567.18,19.98 568.50,18.60 C569.82,17.22 570.77,16.58 571.90,15.90 C573.03,15.22 574.17,14.43 575.30,14.50 C576.43,14.57 577.57,15.05 578.70,16.30 C579.83,17.55 580.88,19.92 582.10,22.00 C583.32,24.08 584.87,28.05 586.00,28.80 C587.13,29.55 587.67,27.07 588.90,26.50 C590.13,25.93 591.88,25.67 593.40,25.40 C594.92,25.13 596.73,24.92 598.00,24.90 C599.27,24.88 599.92,25.60 601.00,25.30 C602.08,25.00 603.08,23.92 604.50,23.10 C605.92,22.28 607.98,20.48 609.50,20.40 C611.02,20.32 612.25,21.58 613.60,22.60 C614.95,23.62 616.40,25.47 617.60,26.50 C618.80,27.53 619.58,28.62 620.80,28.80 C622.02,28.98 623.08,27.87 624.90,27.60 C626.72,27.33 629.43,27.20 631.70,27.20 C633.97,27.20 636.25,27.60 638.50,27.60 C640.75,27.60 642.57,27.20 645.20,27.20 C647.83,27.20 651.28,27.53 654.30,27.60 C657.32,27.67 660.28,27.45 663.30,27.60 C666.32,27.75 669.28,28.42 672.40,28.50 C675.52,28.58 680.40,28.17 682.00,28.10" fill="none" stroke="#E63A44" stroke-width="1.2" stroke-opacity="1.0" stroke-linejoin="round" stroke-linecap="round" clip-path="url(#cp4)" />
<rect x="566.50" y="10.90" width="14.60" height="94.80" fill="#C6FAE8" style="mix-blend-mode:multiply"/>
<rect x="587.10" y="13.50" width="14.80" height="92.20" fill="#F4D0EA" style="mix-blend-mode:multiply"/>
<rect x="605.00" y="13.50" width="14.10" height="92.20" fill="#CBEBFB" style="mix-blend-mode:multiply"/>
<rect x="538.50" y="2.40" width="143.00" height="115.00" fill="none" stroke="#3a3a3a" stroke-width="1.2"/>
<line x1="538.50" y1="117.40" x2="538.50" y2="119.60" stroke="#3a3a3a" stroke-width="1"/>
<text x="538.50" y="127.00" font-size="7.3" text-anchor="middle" fill="#111" >0</text>
<line x1="586.17" y1="117.40" x2="586.17" y2="119.60" stroke="#3a3a3a" stroke-width="1"/>
<text x="586.17" y="127.00" font-size="7.3" text-anchor="middle" fill="#111" >2</text>
<line x1="633.83" y1="117.40" x2="633.83" y2="119.60" stroke="#3a3a3a" stroke-width="1"/>
<text x="633.83" y="127.00" font-size="7.3" text-anchor="middle" fill="#111" >4</text>
<line x1="681.50" y1="117.40" x2="681.50" y2="119.60" stroke="#3a3a3a" stroke-width="1"/>
<text x="681.50" y="127.00" font-size="7.3" text-anchor="middle" fill="#111" >6</text>
<line x1="562.33" y1="117.40" x2="562.33" y2="118.90" stroke="#3a3a3a" stroke-width="0.9"/>
<line x1="610.00" y1="117.40" x2="610.00" y2="118.90" stroke="#3a3a3a" stroke-width="0.9"/>
<line x1="657.67" y1="117.40" x2="657.67" y2="118.90" stroke="#3a3a3a" stroke-width="0.9"/>
<text x="678.50" y="24.60" font-size="7.7" text-anchor="end" fill="#111" >NiCoFeCdCr-O</text>
<text x="678.50" y="43.60" font-size="7.7" text-anchor="end" fill="#111" >NiCoFeCr-O</text>
<text x="678.50" y="60.90" font-size="7.7" text-anchor="end" fill="#111" >NiCoFeCd-O</text>
<text x="678.50" y="80.80" font-size="7.7" text-anchor="end" fill="#111" >NiCoFe-O</text>
<text x="678.50" y="100.60" font-size="7.7" text-anchor="end" fill="#111" >Co<tspan font-size="5" dy="1.8">3</tspan><tspan dy="-1.8">O</tspan><tspan font-size="5" dy="1.8">4</tspan></text>
<text x="572.60" y="114.40" font-size="7.7" text-anchor="middle" fill="#111" >Co-O</text>
<text x="594.80" y="112.60" font-size="7.7" text-anchor="middle" fill="#111" >Co-M1</text>
<text x="618.10" y="114.30" font-size="7.7" text-anchor="middle" fill="#111" >Co-M2</text>
<text x="521.00" y="21.00" font-size="18" text-anchor="start" fill="#111" >d</text>
<text x="610.00" y="141.20" font-size="9.6" text-anchor="middle" fill="#111" >R (Å)</text>
<text x="0" y="0" font-size="10" text-anchor="middle" transform="translate(527.60,58.30) rotate(-90)" fill="#111" >|FT(<tspan font-style="italic">k</tspan><tspan font-size="6" dy="-3.5">3</tspan><tspan dy="3.5"> χ(</tspan><tspan font-style="italic">k</tspan>))|</text>
<clipPath id="cp5"><rect x="18.8" y="162.4" width="142.89999999999998" height="115.1"/></clipPath>
<path d="M18.29,269.62 C19.80,269.53 24.97,269.27 27.34,269.10 C29.71,268.93 31.47,269.06 32.50,268.59 C33.53,268.12 33.20,267.08 33.54,266.26 C33.88,265.44 34.23,264.02 34.57,263.68 C34.91,263.34 35.26,264.02 35.60,264.19 C35.95,264.36 36.30,265.05 36.64,264.71 C36.98,264.37 37.33,265.40 37.67,262.13 C38.02,258.86 38.37,252.22 38.71,245.07 C39.05,237.92 39.40,227.84 39.74,219.23 C40.08,210.62 40.43,200.07 40.77,193.39 C41.12,186.72 41.47,182.41 41.81,179.18 C42.16,175.95 42.50,173.88 42.84,174.01 C43.18,174.14 43.52,178.02 43.87,179.96 C44.21,181.90 44.52,183.62 44.91,185.64 C45.30,187.66 45.77,190.72 46.20,192.10 C46.63,193.48 47.06,193.18 47.49,193.91 C47.92,194.64 48.26,194.94 48.78,196.49 C49.30,198.04 49.77,201.01 50.59,203.21 C51.41,205.41 52.83,208.94 53.69,209.67 C54.55,210.40 54.98,208.94 55.76,207.60 C56.53,206.27 57.63,202.74 58.34,201.66 C59.05,200.58 58.86,202.33 60.00,201.10 C61.14,199.87 63.78,195.10 65.20,194.30 C66.62,193.50 67.38,195.52 68.50,196.30 C69.62,197.08 70.85,198.72 71.90,199.00 C72.95,199.28 73.80,198.38 74.80,198.00 C75.80,197.62 76.65,196.70 77.90,196.70 C79.15,196.70 80.70,197.45 82.30,198.00 C83.90,198.55 85.88,200.23 87.50,200.00 C89.12,199.77 90.50,197.68 92.00,196.60 C93.50,195.52 95.00,193.82 96.50,193.50 C98.00,193.18 99.38,194.27 101.00,194.70 C102.62,195.13 104.47,195.70 106.20,196.10 C107.93,196.50 109.55,197.28 111.40,197.10 C113.25,196.92 115.45,195.20 117.30,195.00 C119.15,194.80 120.77,195.73 122.50,195.90 C124.23,196.07 125.72,196.17 127.70,196.00 C129.68,195.83 132.28,195.10 134.40,194.90 C136.52,194.70 138.53,194.88 140.40,194.80 C142.27,194.72 143.62,194.42 145.60,194.40 C147.58,194.38 149.57,194.53 152.30,194.70 C155.03,194.87 160.38,195.28 162.00,195.40" fill="none" stroke="#78EBCB" stroke-width="1.2" stroke-opacity="1.0" stroke-linejoin="round" stroke-linecap="round" clip-path="url(#cp5)" />
<path d="M18.29,270.12 C19.80,270.03 24.97,269.77 27.34,269.60 C29.71,269.43 31.47,269.56 32.50,269.09 C33.53,268.62 33.20,267.58 33.54,266.76 C33.88,265.94 34.23,264.52 34.57,264.18 C34.91,263.84 35.26,264.52 35.60,264.69 C35.95,264.86 36.30,265.55 36.64,265.21 C36.98,264.87 37.33,265.90 37.67,262.63 C38.02,259.36 38.37,252.72 38.71,245.57 C39.05,238.42 39.40,228.34 39.74,219.73 C40.08,211.12 40.43,200.57 40.77,193.89 C41.12,187.22 41.47,182.91 41.81,179.68 C42.16,176.45 42.50,174.38 42.84,174.51 C43.18,174.64 43.52,178.52 43.87,180.46 C44.21,182.40 44.52,184.12 44.91,186.14 C45.30,188.16 45.77,191.22 46.20,192.60 C46.63,193.98 47.06,193.68 47.49,194.41 C47.92,195.14 48.26,195.44 48.78,196.99 C49.30,198.54 49.77,201.51 50.59,203.71 C51.41,205.91 52.83,209.44 53.69,210.17 C54.55,210.90 54.98,209.44 55.76,208.10 C56.53,206.77 57.63,203.24 58.34,202.16 C59.05,201.08 58.86,202.83 60.00,201.60 C61.14,200.37 63.78,195.60 65.20,194.80 C66.62,194.00 67.38,196.02 68.50,196.80 C69.62,197.58 70.85,199.22 71.90,199.50 C72.95,199.78 73.80,198.88 74.80,198.50 C75.80,198.12 76.65,197.20 77.90,197.20 C79.15,197.20 80.70,197.95 82.30,198.50 C83.90,199.05 85.88,200.73 87.50,200.50 C89.12,200.27 90.50,198.18 92.00,197.10 C93.50,196.02 95.00,194.32 96.50,194.00 C98.00,193.68 99.38,194.77 101.00,195.20 C102.62,195.63 104.47,196.20 106.20,196.60 C107.93,197.00 109.55,197.78 111.40,197.60 C113.25,197.42 115.45,195.70 117.30,195.50 C119.15,195.30 120.77,196.23 122.50,196.40 C124.23,196.57 125.72,196.67 127.70,196.50 C129.68,196.33 132.28,195.60 134.40,195.40 C136.52,195.20 138.53,195.38 140.40,195.30 C142.27,195.22 143.62,194.92 145.60,194.90 C147.58,194.88 149.57,195.03 152.30,195.20 C155.03,195.37 160.38,195.78 162.00,195.90" fill="none" stroke="#6C72C4" stroke-width="1.2" stroke-opacity="1.0" stroke-linejoin="round" stroke-linecap="round" clip-path="url(#cp5)" />
<path d="M18.29,269.82 C19.80,269.73 24.97,269.47 27.34,269.30 C29.71,269.13 31.47,269.26 32.50,268.79 C33.53,268.32 33.20,267.28 33.54,266.46 C33.88,265.64 34.23,264.23 34.57,263.88 C34.91,263.53 35.26,264.22 35.60,264.39 C35.95,264.56 36.30,265.25 36.64,264.91 C36.98,264.57 37.33,265.60 37.67,262.33 C38.02,259.06 38.37,252.42 38.71,245.27 C39.05,238.12 39.40,228.04 39.74,219.43 C40.08,210.82 40.43,200.27 40.77,193.59 C41.12,186.91 41.47,182.61 41.81,179.38 C42.16,176.15 42.50,174.08 42.84,174.21 C43.18,174.34 43.52,178.22 43.87,180.16 C44.21,182.10 44.52,183.82 44.91,185.84 C45.30,187.86 45.77,190.92 46.20,192.30 C46.63,193.68 47.06,193.38 47.49,194.11 C47.92,194.84 48.26,195.14 48.78,196.69 C49.30,198.24 49.77,201.21 50.59,203.41 C51.41,205.61 52.83,209.14 53.69,209.87 C54.55,210.60 54.98,209.14 55.76,207.80 C56.53,206.47 57.63,202.94 58.34,201.86 C59.05,200.78 58.86,202.53 60.00,201.30 C61.14,200.07 63.78,195.30 65.20,194.50 C66.62,193.70 67.38,195.72 68.50,196.50 C69.62,197.28 70.85,198.92 71.90,199.20 C72.95,199.48 73.80,198.58 74.80,198.20 C75.80,197.82 76.65,196.90 77.90,196.90 C79.15,196.90 80.70,197.65 82.30,198.20 C83.90,198.75 85.88,200.43 87.50,200.20 C89.12,199.97 90.50,197.88 92.00,196.80 C93.50,195.72 95.00,194.02 96.50,193.70 C98.00,193.38 99.38,194.47 101.00,194.90 C102.62,195.33 104.47,195.90 106.20,196.30 C107.93,196.70 109.55,197.48 111.40,197.30 C113.25,197.12 115.45,195.40 117.30,195.20 C119.15,195.00 120.77,195.93 122.50,196.10 C124.23,196.27 125.72,196.37 127.70,196.20 C129.68,196.03 132.28,195.30 134.40,195.10 C136.52,194.90 138.53,195.08 140.40,195.00 C142.27,194.92 143.62,194.62 145.60,194.60 C147.58,194.58 149.57,194.73 152.30,194.90 C155.03,195.07 160.38,195.48 162.00,195.60" fill="none" stroke="#E3CB62" stroke-width="1.2" stroke-opacity="1.0" stroke-linejoin="round" stroke-linecap="round" clip-path="url(#cp5)" />
<path d="M18.29,269.82 C19.80,269.73 24.97,269.47 27.34,269.30 C29.71,269.13 31.47,269.35 32.50,268.79 C33.53,268.23 33.24,266.93 33.54,265.94 C33.84,264.95 34.05,263.48 34.31,262.84 C34.57,262.19 34.83,261.77 35.09,262.07 C35.35,262.37 35.60,264.09 35.86,264.65 C36.12,265.21 36.34,265.82 36.64,265.43 C36.94,265.04 37.33,265.69 37.67,262.33 C38.02,258.97 38.37,252.42 38.71,245.27 C39.05,238.12 39.40,228.04 39.74,219.43 C40.08,210.82 40.43,200.05 40.77,193.59 C41.12,187.13 41.47,183.47 41.81,180.67 C42.16,177.87 42.50,176.71 42.84,176.80 C43.18,176.89 43.52,179.60 43.87,181.19 C44.21,182.78 44.52,184.51 44.91,186.36 C45.30,188.21 45.77,190.88 46.20,192.30 C46.63,193.72 47.06,194.02 47.49,194.88 C47.92,195.74 48.26,195.96 48.78,197.47 C49.30,198.98 49.77,201.78 50.59,203.93 C51.41,206.08 52.83,209.61 53.69,210.39 C54.55,211.16 54.98,209.87 55.76,208.58 C56.53,207.29 57.63,203.69 58.34,202.64 C59.05,201.59 58.86,203.59 60.00,202.30 C61.14,201.01 63.78,195.82 65.20,194.90 C66.62,193.98 67.38,196.00 68.50,196.80 C69.62,197.60 70.85,199.40 71.90,199.70 C72.95,200.00 73.80,199.03 74.80,198.60 C75.80,198.17 76.65,197.10 77.90,197.10 C79.15,197.10 80.70,197.93 82.30,198.60 C83.90,199.27 85.88,201.35 87.50,201.10 C89.12,200.85 90.50,198.33 92.00,197.10 C93.50,195.87 95.00,194.07 96.50,193.70 C98.00,193.33 99.38,194.50 101.00,194.90 C102.62,195.30 104.47,195.73 106.20,196.10 C107.93,196.47 109.55,197.30 111.40,197.10 C113.25,196.90 115.45,195.07 117.30,194.90 C119.15,194.73 120.77,195.85 122.50,196.10 C124.23,196.35 125.72,196.60 127.70,196.40 C129.68,196.20 132.28,195.15 134.40,194.90 C136.52,194.65 138.53,194.95 140.40,194.90 C142.27,194.85 143.62,194.60 145.60,194.60 C147.58,194.60 149.57,194.73 152.30,194.90 C155.03,195.07 160.38,195.48 162.00,195.60" fill="none" stroke="#E63A44" stroke-width="1.2" stroke-opacity="1.0" stroke-linejoin="round" stroke-linecap="round" clip-path="url(#cp5)" />
<path d="M18.29,269.82 C19.80,269.73 24.97,269.47 27.34,269.30 C29.71,269.13 31.47,269.00 32.50,268.79 C33.53,268.58 33.11,268.31 33.54,268.01 C33.97,267.71 34.57,267.33 35.09,266.98 C35.61,266.63 36.21,266.63 36.64,265.94 C37.07,265.25 37.33,266.28 37.67,262.84 C38.02,259.39 38.37,252.50 38.71,245.27 C39.05,238.04 39.40,228.47 39.74,219.43 C40.08,210.39 40.43,198.76 40.77,191.01 C41.12,183.26 41.47,177.14 41.81,172.92 C42.16,168.70 42.50,165.68 42.84,165.68 C43.18,165.68 43.52,170.21 43.87,172.92 C44.21,175.63 44.52,179.03 44.91,181.96 C45.30,184.89 45.68,188.47 46.20,190.49 C46.72,192.52 47.36,192.30 48.01,194.11 C48.66,195.92 49.38,199.36 50.07,201.34 C50.76,203.32 51.49,204.87 52.14,205.99 C52.79,207.11 53.35,208.62 53.95,208.06 C54.55,207.50 55.11,204.84 55.76,202.64 C56.41,200.44 57.12,196.79 57.83,194.88 C58.54,192.97 58.89,191.70 60.00,191.20 C61.11,190.70 63.17,191.27 64.50,191.90 C65.83,192.53 66.77,193.88 68.00,195.00 C69.23,196.12 70.82,198.13 71.90,198.60 C72.98,199.07 73.50,198.12 74.50,197.80 C75.50,197.48 76.60,196.73 77.90,196.70 C79.20,196.67 80.70,197.40 82.30,197.60 C83.90,197.80 85.88,198.23 87.50,197.90 C89.12,197.57 90.50,196.30 92.00,195.60 C93.50,194.90 95.00,193.82 96.50,193.70 C98.00,193.58 99.42,194.48 101.00,194.90 C102.58,195.32 104.15,195.75 106.00,196.20 C107.85,196.65 110.22,197.70 112.10,197.60 C113.98,197.50 115.32,196.00 117.30,195.60 C119.28,195.20 121.63,195.12 124.00,195.20 C126.37,195.28 128.77,196.10 131.50,196.10 C134.23,196.10 137.43,195.45 140.40,195.20 C143.37,194.95 145.70,194.53 149.30,194.60 C152.90,194.67 159.88,195.43 162.00,195.60" fill="none" stroke="#4FB6EC" stroke-width="1.0" stroke-opacity="1.0" stroke-linejoin="round" stroke-linecap="round" clip-path="url(#cp5)" />
<rect x="18.80" y="162.40" width="142.90" height="115.10" fill="none" stroke="#3a3a3a" stroke-width="1.2"/>
<line x1="30.08" y1="277.50" x2="30.08" y2="279.70" stroke="#3a3a3a" stroke-width="1"/>
<text x="30.08" y="287.20" font-size="7.3" text-anchor="middle" fill="#111" >7100</text>
<line x1="67.69" y1="277.50" x2="67.69" y2="279.70" stroke="#3a3a3a" stroke-width="1"/>
<text x="67.69" y="287.20" font-size="7.3" text-anchor="middle" fill="#111" >7200</text>
<line x1="105.29" y1="277.50" x2="105.29" y2="279.70" stroke="#3a3a3a" stroke-width="1"/>
<text x="105.29" y="287.20" font-size="7.3" text-anchor="middle" fill="#111" >7300</text>
<line x1="142.90" y1="277.50" x2="142.90" y2="279.70" stroke="#3a3a3a" stroke-width="1"/>
<text x="142.90" y="287.20" font-size="7.3" text-anchor="middle" fill="#111" >7400</text>
<line x1="48.88" y1="277.50" x2="48.88" y2="279.00" stroke="#3a3a3a" stroke-width="0.9"/>
<line x1="86.49" y1="277.50" x2="86.49" y2="279.00" stroke="#3a3a3a" stroke-width="0.9"/>
<line x1="124.09" y1="277.50" x2="124.09" y2="279.00" stroke="#3a3a3a" stroke-width="0.9"/>
<text x="158.80" y="171.00" font-size="7.25" text-anchor="end" fill="#111" >Fe K-edge</text>
<line x1="84.7" y1="217.2" x2="97.1" y2="217.2" stroke="#78EBCB" stroke-width="1.3"/>
<text x="100.50" y="219.40" font-size="7.6" text-anchor="start" fill="#111" >NiCoFe-O</text>
<line x1="84.7" y1="226.5" x2="97.1" y2="226.5" stroke="#6C72C4" stroke-width="1.3"/>
<text x="100.50" y="228.70" font-size="7.6" text-anchor="start" fill="#111" >NiCoFeCd-O</text>
<line x1="84.7" y1="235.9" x2="97.1" y2="235.9" stroke="#E3CB62" stroke-width="1.3"/>
<text x="100.50" y="238.10" font-size="7.6" text-anchor="start" fill="#111" >NiCoFeCr-O</text>
<line x1="84.7" y1="245.4" x2="97.1" y2="245.4" stroke="#E63A44" stroke-width="1.3"/>
<text x="100.50" y="247.60" font-size="7.6" text-anchor="start" fill="#111" >NiCoFeCdCr-O</text>
<line x1="84.7" y1="256.0" x2="97.1" y2="256.0" stroke="#4FB6EC" stroke-width="1.3"/>
<text x="100.50" y="258.20" font-size="7.6" text-anchor="start" fill="#111" >α-Fe<tspan font-size="5" dy="1.8">2</tspan><tspan dy="-1.8">O</tspan><tspan font-size="5" dy="1.8">3</tspan></text>
<text x="2.60" y="181.70" font-size="18" text-anchor="start" fill="#111" >e</text>
<text x="90.20" y="299.80" font-size="9.6" text-anchor="middle" fill="#111" >Energy (eV)</text>
<text x="0" y="0" font-size="9.6" text-anchor="middle" transform="translate(8.40,216.80) rotate(-90)" fill="#111" >XANES (a.u.)</text>
<clipPath id="cp6"><rect x="188.2" y="162.5" width="152.7" height="115.0"/></clipPath>
<path d="M188.00,266.40 C189.13,266.28 192.53,265.90 194.80,265.70 C197.07,265.50 199.15,265.47 201.60,265.20 C204.05,264.93 207.62,264.97 209.50,264.10 C211.38,263.23 211.77,261.25 212.90,260.00 C214.03,258.75 215.17,257.53 216.30,256.60 C217.43,255.67 218.77,255.42 219.70,254.40 C220.63,253.38 221.03,251.63 221.90,250.50 C222.77,249.37 223.95,247.52 224.90,247.60 C225.85,247.68 226.58,249.50 227.60,251.00 C228.62,252.50 229.87,255.28 231.00,256.60 C232.13,257.92 233.27,258.03 234.40,258.90 C235.53,259.77 236.67,261.68 237.80,261.80 C238.93,261.92 240.07,260.47 241.20,259.60 C242.33,258.73 243.37,258.03 244.60,256.60 C245.83,255.17 247.40,252.50 248.60,251.00 C249.80,249.50 250.78,247.68 251.80,247.60 C252.82,247.52 253.67,249.33 254.70,250.50 C255.73,251.67 256.95,253.58 258.00,254.60 C259.05,255.62 260.00,256.00 261.00,256.60 C262.00,257.20 262.93,258.20 264.00,258.20 C265.07,258.20 266.27,256.48 267.40,256.60 C268.53,256.72 269.47,257.77 270.80,258.90 C272.13,260.03 274.07,262.38 275.40,263.40 C276.73,264.42 277.30,264.88 278.80,265.00 C280.30,265.12 282.33,264.18 284.40,264.10 C286.47,264.02 288.93,264.50 291.20,264.50 C293.47,264.50 295.73,264.40 298.00,264.10 C300.27,263.80 302.53,262.82 304.80,262.70 C307.07,262.58 309.35,263.10 311.60,263.40 C313.85,263.70 316.05,264.38 318.30,264.50 C320.55,264.62 322.83,264.02 325.10,264.10 C327.37,264.18 329.25,264.85 331.90,265.00 C334.55,265.15 339.48,265.00 341.00,265.00" fill="none" stroke="#4FB6EC" stroke-width="1.2" stroke-opacity="1.0" stroke-linejoin="round" stroke-linecap="round" clip-path="url(#cp6)" />
<path d="M188.00,246.00 C189.13,245.88 192.53,245.53 194.80,245.30 C197.07,245.07 199.33,244.78 201.60,244.60 C203.87,244.42 206.70,244.72 208.40,244.20 C210.10,243.68 210.48,242.82 211.80,241.50 C213.12,240.18 214.98,237.67 216.30,236.30 C217.62,234.93 218.57,234.07 219.70,233.30 C220.83,232.53 221.90,231.58 223.10,231.70 C224.30,231.82 225.58,232.67 226.90,234.00 C228.22,235.33 229.63,237.93 231.00,239.70 C232.37,241.47 233.78,243.85 235.10,244.60 C236.42,245.35 237.70,244.45 238.90,244.20 C240.10,243.95 240.98,244.05 242.30,243.10 C243.62,242.15 245.30,240.02 246.80,238.50 C248.30,236.98 249.85,235.05 251.30,234.00 C252.75,232.95 253.93,232.58 255.50,232.20 C257.07,231.82 258.90,231.40 260.70,231.70 C262.50,232.00 264.42,232.87 266.30,234.00 C268.18,235.13 270.30,236.98 272.00,238.50 C273.70,240.02 275.00,241.97 276.50,243.10 C278.00,244.23 279.50,245.12 281.00,245.30 C282.50,245.48 283.62,244.47 285.50,244.20 C287.38,243.93 289.85,243.88 292.30,243.70 C294.75,243.52 297.75,243.02 300.20,243.10 C302.65,243.18 304.73,244.20 307.00,244.20 C309.27,244.20 311.53,243.18 313.80,243.10 C316.07,243.02 318.33,243.45 320.60,243.70 C322.87,243.95 325.13,244.45 327.40,244.60 C329.67,244.75 331.93,244.48 334.20,244.60 C336.47,244.72 339.87,245.18 341.00,245.30" fill="none" stroke="#78EBCB" stroke-width="1.2" stroke-opacity="1.0" stroke-linejoin="round" stroke-linecap="round" clip-path="url(#cp6)" />
<path d="M188.00,230.20 C189.13,230.08 192.53,229.73 194.80,229.50 C197.07,229.27 199.33,228.80 201.60,228.80 C203.87,228.80 206.70,229.77 208.40,229.50 C210.10,229.23 210.68,228.52 211.80,227.20 C212.92,225.88 213.78,223.37 215.10,221.60 C216.42,219.83 218.37,217.82 219.70,216.60 C221.03,215.38 221.90,214.23 223.10,214.30 C224.30,214.37 225.52,215.33 226.90,217.00 C228.28,218.67 229.88,222.10 231.40,224.30 C232.92,226.50 234.57,229.72 236.00,230.20 C237.43,230.68 238.57,228.27 240.00,227.20 C241.43,226.13 243.08,225.12 244.60,223.80 C246.12,222.48 247.60,220.50 249.10,219.30 C250.60,218.10 252.20,217.28 253.60,216.60 C255.00,215.92 256.27,215.48 257.50,215.20 C258.73,214.92 259.72,214.67 261.00,214.90 C262.28,215.13 263.57,215.68 265.20,216.60 C266.83,217.52 269.10,218.90 270.80,220.40 C272.50,221.90 273.88,224.08 275.40,225.60 C276.92,227.12 278.40,229.12 279.90,229.50 C281.40,229.88 282.52,228.47 284.40,227.90 C286.28,227.33 288.93,226.58 291.20,226.10 C293.47,225.62 295.73,225.08 298.00,225.00 C300.27,224.92 302.53,225.60 304.80,225.60 C307.07,225.60 309.35,224.92 311.60,225.00 C313.85,225.08 316.05,225.62 318.30,226.10 C320.55,226.58 322.83,227.45 325.10,227.90 C327.37,228.35 329.25,228.53 331.90,228.80 C334.55,229.07 339.48,229.38 341.00,229.50" fill="none" stroke="#6C72C4" stroke-width="1.2" stroke-opacity="1.0" stroke-linejoin="round" stroke-linecap="round" clip-path="url(#cp6)" />
<path d="M188.00,212.50 C189.13,212.50 192.53,212.57 194.80,212.50 C197.07,212.43 199.33,212.10 201.60,212.10 C203.87,212.10 206.90,212.62 208.40,212.50 C209.90,212.38 209.67,212.53 210.60,211.40 C211.53,210.27 212.68,207.97 214.00,205.70 C215.32,203.43 216.98,199.75 218.50,197.80 C220.02,195.85 221.58,194.12 223.10,194.00 C224.62,193.88 226.10,195.15 227.60,197.10 C229.10,199.05 230.70,203.20 232.10,205.70 C233.50,208.20 234.68,211.35 236.00,212.10 C237.32,212.85 238.57,210.58 240.00,210.20 C241.43,209.82 243.08,210.35 244.60,209.80 C246.12,209.25 247.60,208.15 249.10,206.90 C250.60,205.65 252.28,203.53 253.60,202.30 C254.92,201.07 256.02,200.52 257.00,199.50 C257.98,198.48 258.33,196.97 259.50,196.20 C260.67,195.43 262.48,194.75 264.00,194.90 C265.52,195.05 267.08,195.67 268.60,197.10 C270.12,198.53 271.60,201.32 273.10,203.50 C274.60,205.68 276.28,208.70 277.60,210.20 C278.92,211.70 279.87,212.50 281.00,212.50 C282.13,212.50 283.08,210.50 284.40,210.20 C285.72,209.90 287.20,210.38 288.90,210.70 C290.60,211.02 292.72,212.18 294.60,212.10 C296.48,212.02 298.13,210.82 300.20,210.20 C302.27,209.58 304.73,208.85 307.00,208.40 C309.27,207.95 311.53,207.38 313.80,207.50 C316.07,207.62 318.33,208.45 320.60,209.10 C322.87,209.75 325.13,210.90 327.40,211.40 C329.67,211.90 331.93,211.92 334.20,212.10 C336.47,212.28 339.87,212.43 341.00,212.50" fill="none" stroke="#E3CB62" stroke-width="1.2" stroke-opacity="1.0" stroke-linejoin="round" stroke-linecap="round" clip-path="url(#cp6)" />
<path d="M188.00,192.10 C188.75,192.03 191.00,191.62 192.50,191.70 C194.00,191.78 195.68,192.60 197.00,192.60 C198.32,192.60 199.27,191.70 200.40,191.70 C201.53,191.70 202.67,192.72 203.80,192.60 C204.93,192.48 206.07,191.15 207.20,191.00 C208.33,190.85 209.47,192.45 210.60,191.70 C211.73,190.95 212.87,188.50 214.00,186.50 C215.13,184.50 216.27,181.70 217.40,179.70 C218.53,177.70 219.85,175.52 220.80,174.50 C221.75,173.48 222.35,173.48 223.10,173.60 C223.85,173.72 224.37,173.80 225.30,175.20 C226.23,176.60 227.57,179.73 228.70,182.00 C229.83,184.27 231.03,187.30 232.10,188.80 C233.17,190.30 233.97,190.75 235.10,191.00 C236.23,191.25 237.70,190.87 238.90,190.30 C240.10,189.73 240.98,188.62 242.30,187.60 C243.62,186.58 245.30,185.33 246.80,184.20 C248.30,183.07 249.93,181.73 251.30,180.80 C252.67,179.87 253.63,179.42 255.00,178.60 C256.37,177.78 258.07,176.58 259.50,175.90 C260.93,175.22 262.28,174.35 263.60,174.50 C264.92,174.65 266.00,175.37 267.40,176.80 C268.80,178.23 270.48,180.85 272.00,183.10 C273.52,185.35 275.18,188.87 276.50,190.30 C277.82,191.73 278.77,191.77 279.90,191.70 C281.03,191.63 281.98,190.13 283.30,189.90 C284.62,189.67 286.10,190.00 287.80,190.30 C289.50,190.60 291.43,191.70 293.50,191.70 C295.57,191.70 297.95,190.68 300.20,190.30 C302.45,189.92 304.73,189.65 307.00,189.40 C309.27,189.15 311.53,188.65 313.80,188.80 C316.07,188.95 318.33,189.93 320.60,190.30 C322.87,190.67 325.13,190.77 327.40,191.00 C329.67,191.23 331.93,191.58 334.20,191.70 C336.47,191.82 339.87,191.70 341.00,191.70" fill="none" stroke="#E63A44" stroke-width="1.2" stroke-opacity="1.0" stroke-linejoin="round" stroke-linecap="round" clip-path="url(#cp6)" />
<rect x="211.90" y="170.90" width="23.30" height="93.90" fill="#F4D0EA" style="mix-blend-mode:multiply"/>
<rect x="247.30" y="170.90" width="28.00" height="93.90" fill="#CBEBFB" style="mix-blend-mode:multiply"/>
<rect x="188.20" y="162.50" width="152.70" height="115.00" fill="none" stroke="#3a3a3a" stroke-width="1.2"/>
<line x1="188.20" y1="277.50" x2="188.20" y2="279.70" stroke="#3a3a3a" stroke-width="1"/>
<text x="188.20" y="287.20" font-size="7.3" text-anchor="middle" fill="#111" >0</text>
<line x1="239.10" y1="277.50" x2="239.10" y2="279.70" stroke="#3a3a3a" stroke-width="1"/>
<text x="239.10" y="287.20" font-size="7.3" text-anchor="middle" fill="#111" >2</text>
<line x1="290.00" y1="277.50" x2="290.00" y2="279.70" stroke="#3a3a3a" stroke-width="1"/>
<text x="290.00" y="287.20" font-size="7.3" text-anchor="middle" fill="#111" >4</text>
<line x1="340.90" y1="277.50" x2="340.90" y2="279.70" stroke="#3a3a3a" stroke-width="1"/>
<text x="340.90" y="287.20" font-size="7.3" text-anchor="middle" fill="#111" >6</text>
<line x1="213.65" y1="277.50" x2="213.65" y2="279.00" stroke="#3a3a3a" stroke-width="0.9"/>
<line x1="264.55" y1="277.50" x2="264.55" y2="279.00" stroke="#3a3a3a" stroke-width="0.9"/>
<line x1="315.45" y1="277.50" x2="315.45" y2="279.00" stroke="#3a3a3a" stroke-width="0.9"/>
<text x="339.20" y="186.00" font-size="8.0" text-anchor="end" fill="#111" >NiCoFeCdCr-O</text>
<text x="339.20" y="205.90" font-size="8.0" text-anchor="end" fill="#111" >NiCoFeCr-O</text>
<text x="339.20" y="223.70" font-size="8.0" text-anchor="end" fill="#111" >NiCoFeCd-O</text>
<text x="339.20" y="242.20" font-size="8.0" text-anchor="end" fill="#111" >NiCoFe-O</text>
<text x="339.20" y="260.90" font-size="8.0" text-anchor="end" fill="#111" >α-Fe<tspan font-size="5" dy="1.8">2</tspan><tspan dy="-1.8">O</tspan><tspan font-size="5" dy="1.8">3</tspan></text>
<text x="223.50" y="273.80" font-size="8.0" text-anchor="middle" fill="#111" >Fe-O</text>
<text x="257.20" y="273.80" font-size="8.0" text-anchor="middle" fill="#111" >Fe-M</text>
<text x="172.00" y="181.70" font-size="18" text-anchor="start" fill="#111" >f</text>
<text x="264.70" y="299.80" font-size="9.6" text-anchor="middle" fill="#111" >R (Å)</text>
<text x="0" y="0" font-size="10" text-anchor="middle" transform="translate(177.20,218.80) rotate(-90)" fill="#111" >|FT(<tspan font-style="italic">k</tspan><tspan font-size="6" dy="-3.5">3</tspan><tspan dy="3.5"> χ(</tspan><tspan font-style="italic">k</tspan>))|</text>
<clipPath id="cp7"><rect x="363.4" y="162.2" width="144.0" height="115.60000000000002"/></clipPath>
<path d="M363.00,270.20 C364.30,269.98 368.43,269.42 370.80,268.90 C373.17,268.38 375.27,267.97 377.20,267.10 C379.13,266.23 380.97,264.90 382.40,263.70 C383.83,262.50 384.85,261.83 385.80,259.90 C386.75,257.97 387.42,255.77 388.10,252.10 C388.78,248.43 389.35,243.28 389.90,237.90 C390.45,232.52 390.88,227.13 391.40,219.80 C391.92,212.47 392.52,201.45 393.00,193.90 C393.48,186.35 393.78,179.15 394.30,174.50 C394.82,169.85 395.50,166.65 396.10,166.00 C396.70,165.35 397.17,167.45 397.90,170.60 C398.63,173.75 399.50,180.58 400.50,184.90 C401.50,189.22 402.60,193.83 403.90,196.50 C405.20,199.17 406.93,200.68 408.30,200.90 C409.67,201.12 410.60,199.83 412.10,197.80 C413.60,195.77 415.35,190.85 417.30,188.70 C419.25,186.55 421.87,185.32 423.80,184.90 C425.73,184.48 426.97,185.35 428.90,186.20 C430.83,187.05 433.45,189.15 435.40,190.00 C437.35,190.85 438.45,191.30 440.60,191.30 C442.75,191.30 446.23,190.43 448.30,190.00 C450.37,189.57 451.02,189.25 453.00,188.70 C454.98,188.15 457.28,187.03 460.20,186.70 C463.12,186.37 467.05,186.58 470.50,186.70 C473.95,186.82 477.45,187.28 480.90,187.40 C484.35,187.52 488.18,187.48 491.20,187.40 C494.22,187.32 496.20,187.12 499.00,186.90 C501.80,186.68 506.50,186.23 508.00,186.10" fill="none" stroke="#9AA0E8" stroke-width="1.2" stroke-opacity="1.0" stroke-linejoin="round" stroke-linecap="round" clip-path="url(#cp7)" />
<path d="M363.00,269.90 C364.30,269.68 368.43,269.12 370.80,268.60 C373.17,268.08 375.27,267.67 377.20,266.80 C379.13,265.93 380.97,264.60 382.40,263.40 C383.83,262.20 384.85,261.53 385.80,259.60 C386.75,257.67 387.42,255.47 388.10,251.80 C388.78,248.13 389.35,242.98 389.90,237.60 C390.45,232.22 390.88,226.83 391.40,219.50 C391.92,212.17 392.52,201.15 393.00,193.60 C393.48,186.05 393.78,178.85 394.30,174.20 C394.82,169.55 395.50,166.35 396.10,165.70 C396.70,165.05 397.17,167.15 397.90,170.30 C398.63,173.45 399.50,180.28 400.50,184.60 C401.50,188.92 402.60,193.53 403.90,196.20 C405.20,198.87 406.93,200.38 408.30,200.60 C409.67,200.82 410.60,199.53 412.10,197.50 C413.60,195.47 415.35,190.55 417.30,188.40 C419.25,186.25 421.87,185.02 423.80,184.60 C425.73,184.18 426.97,185.05 428.90,185.90 C430.83,186.75 433.45,188.85 435.40,189.70 C437.35,190.55 438.45,191.00 440.60,191.00 C442.75,191.00 446.23,190.13 448.30,189.70 C450.37,189.27 451.02,188.95 453.00,188.40 C454.98,187.85 457.28,186.73 460.20,186.40 C463.12,186.07 467.05,186.28 470.50,186.40 C473.95,186.52 477.45,186.98 480.90,187.10 C484.35,187.22 488.18,187.18 491.20,187.10 C494.22,187.02 496.20,186.82 499.00,186.60 C501.80,186.38 506.50,185.93 508.00,185.80" fill="none" stroke="#E63A44" stroke-width="1.2" stroke-opacity="1.0" stroke-linejoin="round" stroke-linecap="round" clip-path="url(#cp7)" />
<rect x="363.40" y="162.20" width="144.00" height="115.60" fill="none" stroke="#3a3a3a" stroke-width="1.2"/>
<line x1="382.18" y1="277.80" x2="382.18" y2="280.00" stroke="#3a3a3a" stroke-width="1"/>
<text x="382.18" y="287.40" font-size="7.3" text-anchor="middle" fill="#111" >26700</text>
<line x1="419.75" y1="277.80" x2="419.75" y2="280.00" stroke="#3a3a3a" stroke-width="1"/>
<text x="419.75" y="287.40" font-size="7.3" text-anchor="middle" fill="#111" >26760</text>
<line x1="457.31" y1="277.80" x2="457.31" y2="280.00" stroke="#3a3a3a" stroke-width="1"/>
<text x="457.31" y="287.40" font-size="7.3" text-anchor="middle" fill="#111" >26820</text>
<line x1="494.88" y1="277.80" x2="494.88" y2="280.00" stroke="#3a3a3a" stroke-width="1"/>
<text x="494.88" y="287.40" font-size="7.3" text-anchor="middle" fill="#111" >26880</text>
<line x1="400.97" y1="277.80" x2="400.97" y2="279.30" stroke="#3a3a3a" stroke-width="0.9"/>
<line x1="438.53" y1="277.80" x2="438.53" y2="279.30" stroke="#3a3a3a" stroke-width="0.9"/>
<line x1="476.10" y1="277.80" x2="476.10" y2="279.30" stroke="#3a3a3a" stroke-width="0.9"/>
<text x="504.30" y="171.60" font-size="7.35" text-anchor="end" fill="#111" >Cd K-edge</text>
<line x1="433.1" y1="210.9" x2="446" y2="210.9" stroke="#A8ADEA" stroke-width="1.3"/>
<text x="449.10" y="213.10" font-size="7.7" text-anchor="start" fill="#111" >NiCoFeCd-O</text>
<line x1="433.1" y1="220.7" x2="446" y2="220.7" stroke="#E63A44" stroke-width="1.3"/>
<text x="449.10" y="222.90" font-size="7.7" text-anchor="start" fill="#111" >NiCoFeCdCr-O</text>
<text x="348.00" y="177.60" font-size="18" text-anchor="start" fill="#111" >g</text>
<text x="435.20" y="300.80" font-size="9.6" text-anchor="middle" fill="#111" >Energy (eV)</text>
<text x="0" y="0" font-size="9.799999999999999" text-anchor="middle" transform="translate(353.50,216.60) rotate(-90)" fill="#111" >XANES (a.u.)</text>
<clipPath id="cp8"><rect x="538.4" y="162.5" width="142.5" height="115.0"/></clipPath>
<path d="M538.00,212.50 C538.57,212.43 540.27,212.10 541.40,212.10 C542.53,212.10 543.67,212.55 544.80,212.50 C545.93,212.45 547.00,211.68 548.20,211.80 C549.40,211.92 550.87,213.47 552.00,213.20 C553.13,212.93 553.93,211.52 555.00,210.20 C556.07,208.88 557.27,206.80 558.40,205.30 C559.53,203.80 560.75,202.07 561.80,201.20 C562.85,200.33 563.77,200.55 564.70,200.10 C565.63,199.65 566.38,200.20 567.40,198.50 C568.42,196.80 569.67,193.22 570.80,189.90 C571.93,186.58 573.18,181.62 574.20,178.60 C575.22,175.58 576.15,173.23 576.90,171.80 C577.65,170.37 578.02,169.82 578.70,170.00 C579.38,170.18 580.25,170.72 581.00,172.90 C581.75,175.08 582.45,179.13 583.20,183.10 C583.95,187.07 584.82,192.55 585.50,196.70 C586.18,200.85 586.73,205.85 587.30,208.00 C587.87,210.15 588.07,209.42 588.90,209.60 C589.73,209.78 590.98,209.07 592.30,209.10 C593.62,209.13 595.52,209.48 596.80,209.80 C598.08,210.12 598.90,211.00 600.00,211.00 C601.10,211.00 602.27,210.48 603.40,209.80 C604.53,209.12 605.67,207.65 606.80,206.90 C607.93,206.15 609.07,205.20 610.20,205.30 C611.33,205.40 612.37,206.48 613.60,207.50 C614.83,208.52 616.28,210.48 617.60,211.40 C618.92,212.32 619.92,212.82 621.50,213.00 C623.08,213.18 625.03,212.50 627.10,212.50 C629.17,212.50 631.63,213.00 633.90,213.00 C636.17,213.00 638.43,212.50 640.70,212.50 C642.97,212.50 645.23,213.07 647.50,213.00 C649.77,212.93 652.03,212.10 654.30,212.10 C656.57,212.10 658.83,213.00 661.10,213.00 C663.37,213.00 665.63,212.10 667.90,212.10 C670.17,212.10 672.35,212.93 674.70,213.00 C677.05,213.07 680.78,212.58 682.00,212.50" fill="none" stroke="#E63A44" stroke-width="1.2" stroke-opacity="1.0" stroke-linejoin="round" stroke-linecap="round" clip-path="url(#cp8)" />
<path d="M538.00,260.50 C538.45,260.23 539.75,258.98 540.70,258.90 C541.65,258.82 542.72,260.12 543.70,260.00 C544.68,259.88 545.67,258.20 546.60,258.20 C547.53,258.20 548.40,260.07 549.30,260.00 C550.20,259.93 551.05,257.87 552.00,257.80 C552.95,257.73 554.02,259.60 555.00,259.60 C555.98,259.60 556.97,258.67 557.90,257.80 C558.83,256.93 559.70,255.92 560.60,254.40 C561.50,252.88 562.35,250.33 563.30,248.70 C564.25,247.07 565.23,245.73 566.30,244.60 C567.37,243.47 568.57,243.85 569.70,241.90 C570.83,239.95 572.05,236.10 573.10,232.90 C574.15,229.70 575.07,225.27 576.00,222.70 C576.93,220.13 577.80,217.68 578.70,217.50 C579.60,217.32 580.57,219.03 581.40,221.60 C582.23,224.17 583.02,228.77 583.70,232.90 C584.38,237.03 584.93,242.25 585.50,246.40 C586.07,250.55 586.53,256.28 587.10,257.80 C587.67,259.32 588.22,256.27 588.90,255.50 C589.58,254.73 590.45,253.20 591.20,253.20 C591.95,253.20 592.65,254.67 593.40,255.50 C594.15,256.33 594.75,257.90 595.70,258.20 C596.65,258.50 597.63,257.57 599.10,257.30 C600.57,257.03 602.85,256.90 604.50,256.60 C606.15,256.30 607.48,255.38 609.00,255.50 C610.52,255.62 612.08,256.55 613.60,257.30 C615.12,258.05 616.78,259.35 618.10,260.00 C619.42,260.65 620.18,261.20 621.50,261.20 C622.82,261.20 624.30,260.38 626.00,260.00 C627.70,259.62 629.82,258.97 631.70,258.90 C633.58,258.83 635.42,259.78 637.30,259.60 C639.18,259.42 641.30,258.03 643.00,257.80 C644.70,257.57 646.18,258.28 647.50,258.20 C648.82,258.12 649.77,256.80 650.90,257.30 C652.03,257.80 653.17,261.05 654.30,261.20 C655.43,261.35 656.38,258.77 657.70,258.20 C659.02,257.63 660.50,257.68 662.20,257.80 C663.90,257.92 666.02,258.90 667.90,258.90 C669.78,258.90 671.80,258.18 673.50,257.80 C675.20,257.42 676.68,256.80 678.10,256.60 C679.52,256.40 681.35,256.60 682.00,256.60" fill="none" stroke="#6C72C4" stroke-width="1.2" stroke-opacity="1.0" stroke-linejoin="round" stroke-linecap="round" clip-path="url(#cp8)" />
<rect x="566.30" y="169.10" width="20.70" height="96.50" fill="#C6FAE8" style="mix-blend-mode:multiply"/>
<rect x="600.20" y="201.40" width="20.70" height="64.20" fill="#F4D0EA" style="mix-blend-mode:multiply"/>
<rect x="538.40" y="162.50" width="142.50" height="115.00" fill="none" stroke="#3a3a3a" stroke-width="1.2"/>
<line x1="538.40" y1="277.50" x2="538.40" y2="279.70" stroke="#3a3a3a" stroke-width="1"/>
<text x="538.40" y="287.20" font-size="7.3" text-anchor="middle" fill="#111" >0</text>
<line x1="585.90" y1="277.50" x2="585.90" y2="279.70" stroke="#3a3a3a" stroke-width="1"/>
<text x="585.90" y="287.20" font-size="7.3" text-anchor="middle" fill="#111" >2</text>
<line x1="633.40" y1="277.50" x2="633.40" y2="279.70" stroke="#3a3a3a" stroke-width="1"/>
<text x="633.40" y="287.20" font-size="7.3" text-anchor="middle" fill="#111" >4</text>
<line x1="680.90" y1="277.50" x2="680.90" y2="279.70" stroke="#3a3a3a" stroke-width="1"/>
<text x="680.90" y="287.20" font-size="7.3" text-anchor="middle" fill="#111" >6</text>
<line x1="562.15" y1="277.50" x2="562.15" y2="279.00" stroke="#3a3a3a" stroke-width="0.9"/>
<line x1="609.65" y1="277.50" x2="609.65" y2="279.00" stroke="#3a3a3a" stroke-width="0.9"/>
<line x1="657.15" y1="277.50" x2="657.15" y2="279.00" stroke="#3a3a3a" stroke-width="0.9"/>
<text x="680.50" y="209.20" font-size="7.65" text-anchor="end" fill="#111" >NiCoFeCdCr-O</text>
<text x="680.50" y="255.40" font-size="7.65" text-anchor="end" fill="#111" >NiCoFeCd-O</text>
<text x="576.10" y="274.60" font-size="7.65" text-anchor="middle" fill="#111" >Cd-O</text>
<text x="610.30" y="274.60" font-size="7.65" text-anchor="middle" fill="#111" >Cd-M</text>
<text x="520.40" y="181.00" font-size="18" text-anchor="start" fill="#111" >h</text>
<text x="609.90" y="300.80" font-size="9.6" text-anchor="middle" fill="#111" >R (Å)</text>
<text x="0" y="0" font-size="10" text-anchor="middle" transform="translate(528.00,218.60) rotate(-90)" fill="#111" >|FT(<tspan font-style="italic">k</tspan><tspan font-size="6" dy="-3.5">3</tspan><tspan dy="3.5"> χ(</tspan><tspan font-style="italic">k</tspan>))|</text>
<clipPath id="cp9"><rect x="18.8" y="321.8" width="142.89999999999998" height="115.69999999999999"/></clipPath>
<path d="M18.29,429.63 C20.23,429.54 27.64,429.37 29.92,429.11 C32.20,428.85 31.43,428.60 31.99,428.08 C32.55,427.56 32.89,427.13 33.28,426.01 C33.67,424.89 34.01,423.43 34.31,421.36 C34.61,419.29 34.79,418.78 35.09,413.61 C35.39,408.44 35.82,397.67 36.12,390.35 C36.42,383.03 36.64,376.57 36.90,369.68 C37.16,362.79 37.37,353.96 37.67,349.01 C37.97,344.06 38.41,341.77 38.71,339.96 C39.01,338.15 39.22,337.86 39.48,338.16 C39.74,338.46 40.00,340.39 40.26,341.77 C40.52,343.15 40.73,345.30 41.03,346.42 C41.33,347.54 41.72,348.06 42.06,348.49 C42.41,348.92 42.71,348.41 43.10,349.01 C43.49,349.61 44.00,350.73 44.39,352.11 C44.78,353.49 45.03,354.70 45.42,357.28 C45.81,359.86 46.29,365.11 46.72,367.61 C47.15,370.11 47.58,371.14 48.01,372.26 C48.44,373.38 48.78,374.24 49.30,374.33 C49.82,374.42 50.46,373.55 51.11,372.78 C51.76,372.00 52.53,370.59 53.18,369.68 C53.83,368.77 54.05,368.91 55.00,367.30 C55.95,365.69 57.47,361.68 58.90,360.00 C60.33,358.32 61.90,357.07 63.60,357.20 C65.30,357.33 67.15,359.77 69.10,360.80 C71.05,361.83 73.22,363.28 75.30,363.40 C77.38,363.52 79.52,362.32 81.60,361.50 C83.68,360.68 85.72,359.27 87.80,358.50 C89.88,357.73 92.02,357.03 94.10,356.90 C96.18,356.77 98.22,357.38 100.30,357.70 C102.38,358.02 104.77,358.50 106.60,358.80 C108.43,359.10 109.48,359.63 111.30,359.50 C113.12,359.37 115.17,358.45 117.50,358.00 C119.83,357.55 122.70,357.07 125.30,356.80 C127.90,356.53 130.65,356.37 133.10,356.40 C135.55,356.43 137.18,356.80 140.00,357.00 C142.82,357.20 146.33,357.52 150.00,357.60 C153.67,357.68 160.00,357.52 162.00,357.50" fill="none" stroke="#E3CB62" stroke-width="1.2" stroke-opacity="1.0" stroke-linejoin="round" stroke-linecap="round" clip-path="url(#cp9)" />
<path d="M18.29,429.63 C20.23,429.54 27.64,429.37 29.92,429.11 C32.20,428.85 31.43,428.60 31.99,428.08 C32.55,427.56 32.89,427.13 33.28,426.01 C33.67,424.89 34.01,423.43 34.31,421.36 C34.61,419.29 34.79,418.78 35.09,413.61 C35.39,408.44 35.82,397.67 36.12,390.35 C36.42,383.03 36.64,376.57 36.90,369.68 C37.16,362.79 37.37,354.18 37.67,349.01 C37.97,343.84 38.41,340.82 38.71,338.67 C39.01,336.52 39.22,335.88 39.48,336.09 C39.74,336.30 40.00,338.45 40.26,339.96 C40.52,341.47 40.73,343.97 41.03,345.13 C41.33,346.29 41.72,346.60 42.06,346.94 C42.41,347.28 42.71,346.51 43.10,347.20 C43.49,347.89 44.00,349.48 44.39,351.07 C44.78,352.66 45.03,354.09 45.42,356.76 C45.81,359.43 46.29,364.43 46.72,367.10 C47.15,369.77 47.58,371.40 48.01,372.78 C48.44,374.16 48.78,375.45 49.30,375.36 C49.82,375.27 50.46,373.64 51.11,372.26 C51.76,370.88 52.53,368.31 53.18,367.10 C53.83,365.89 54.05,366.52 55.00,365.00 C55.95,363.48 57.47,359.57 58.90,358.00 C60.33,356.43 61.90,355.35 63.60,355.60 C65.30,355.85 67.15,358.32 69.10,359.50 C71.05,360.68 73.22,362.43 75.30,362.70 C77.38,362.97 79.52,361.88 81.60,361.10 C83.68,360.32 85.72,358.78 87.80,358.00 C89.88,357.22 92.02,356.48 94.10,356.40 C96.18,356.32 98.22,357.10 100.30,357.50 C102.38,357.90 104.77,358.47 106.60,358.80 C108.43,359.13 109.48,359.57 111.30,359.50 C113.12,359.43 115.17,358.78 117.50,358.40 C119.83,358.02 122.70,357.45 125.30,357.20 C127.90,356.95 130.75,356.85 133.10,356.90 C135.45,356.95 136.78,357.32 139.40,357.50 C142.02,357.68 145.03,357.92 148.80,358.00 C152.57,358.08 159.80,358.00 162.00,358.00" fill="none" stroke="#E63A44" stroke-width="1.2" stroke-opacity="1.0" stroke-linejoin="round" stroke-linecap="round" clip-path="url(#cp9)" />
<path d="M18.29,429.63 C20.23,429.59 27.64,429.54 29.92,429.37 C32.20,429.20 31.43,428.98 31.99,428.59 C32.55,428.20 32.89,427.81 33.28,427.04 C33.67,426.27 34.01,425.53 34.31,423.94 C34.61,422.35 34.79,422.22 35.09,417.48 C35.39,412.74 35.82,403.49 36.12,395.52 C36.42,387.55 36.64,377.43 36.90,369.68 C37.16,361.93 37.37,354.61 37.67,349.01 C37.97,343.41 38.37,339.53 38.71,336.09 C39.05,332.64 39.40,330.06 39.74,328.34 C40.08,326.62 40.47,324.89 40.77,325.75 C41.07,326.61 41.29,330.57 41.55,333.50 C41.81,336.43 42.02,341.08 42.32,343.32 C42.62,345.56 43.02,346.16 43.36,346.94 C43.70,347.72 44.05,347.71 44.39,347.97 C44.73,348.23 45.12,347.67 45.42,348.49 C45.72,349.31 45.90,350.43 46.20,352.88 C46.50,355.33 46.88,360.42 47.23,363.22 C47.57,366.02 47.93,368.26 48.27,369.68 C48.62,371.10 48.91,371.75 49.30,371.75 C49.69,371.75 50.03,371.32 50.59,369.68 C51.15,368.04 51.92,364.28 52.66,361.93 C53.39,359.58 54.09,357.17 55.00,355.60 C55.91,354.03 57.05,353.28 58.10,352.50 C59.15,351.72 60.12,350.77 61.30,350.90 C62.48,351.03 63.78,351.93 65.20,353.30 C66.62,354.67 68.37,358.07 69.80,359.10 C71.23,360.13 72.48,359.35 73.80,359.50 C75.12,359.65 76.28,360.00 77.70,360.00 C79.12,360.00 80.62,359.92 82.30,359.50 C83.98,359.08 85.58,358.10 87.80,357.50 C90.02,356.90 93.25,355.82 95.60,355.90 C97.95,355.98 99.82,357.47 101.90,358.00 C103.98,358.53 106.53,358.72 108.10,359.10 C109.67,359.48 109.73,360.48 111.30,360.30 C112.87,360.12 115.42,358.52 117.50,358.00 C119.58,357.48 121.20,357.38 123.80,357.20 C126.40,357.02 129.98,356.90 133.10,356.90 C136.22,356.90 139.37,357.10 142.50,357.20 C145.63,357.30 148.65,357.45 151.90,357.50 C155.15,357.55 160.32,357.50 162.00,357.50" fill="none" stroke="#8A96F8" stroke-width="1.0" stroke-opacity="1.0" stroke-linejoin="round" stroke-linecap="round" clip-path="url(#cp9)" />
<rect x="18.80" y="321.80" width="142.90" height="115.70" fill="none" stroke="#3a3a3a" stroke-width="1.2"/>
<line x1="36.66" y1="437.50" x2="36.66" y2="439.70" stroke="#3a3a3a" stroke-width="1"/>
<text x="36.66" y="447.20" font-size="7.3" text-anchor="middle" fill="#111" >6000</text>
<line x1="72.39" y1="437.50" x2="72.39" y2="439.70" stroke="#3a3a3a" stroke-width="1"/>
<text x="72.39" y="447.20" font-size="7.3" text-anchor="middle" fill="#111" >6100</text>
<line x1="108.11" y1="437.50" x2="108.11" y2="439.70" stroke="#3a3a3a" stroke-width="1"/>
<text x="108.11" y="447.20" font-size="7.3" text-anchor="middle" fill="#111" >6200</text>
<line x1="143.84" y1="437.50" x2="143.84" y2="439.70" stroke="#3a3a3a" stroke-width="1"/>
<text x="143.84" y="447.20" font-size="7.3" text-anchor="middle" fill="#111" >6300</text>
<line x1="54.52" y1="437.50" x2="54.52" y2="439.00" stroke="#3a3a3a" stroke-width="0.9"/>
<line x1="90.25" y1="437.50" x2="90.25" y2="439.00" stroke="#3a3a3a" stroke-width="0.9"/>
<line x1="125.97" y1="437.50" x2="125.97" y2="439.00" stroke="#3a3a3a" stroke-width="0.9"/>
<text x="158.90" y="330.60" font-size="7.3" text-anchor="end" fill="#111" >Cr K-edge</text>
<line x1="89.4" y1="382.5" x2="101" y2="382.5" stroke="#E3CB62" stroke-width="1.3"/>
<text x="104.10" y="384.70" font-size="7.7" text-anchor="start" fill="#111" >NiCoFeCr-O</text>
<line x1="89.4" y1="392.2" x2="101" y2="392.2" stroke="#E63A44" stroke-width="1.3"/>
<text x="104.10" y="394.40" font-size="7.7" text-anchor="start" fill="#111" >NiCoFeCdCr-O</text>
<line x1="89.4" y1="401.7" x2="101" y2="401.7" stroke="#8A96F8" stroke-width="1.3"/>
<text x="104.10" y="403.90" font-size="7.7" text-anchor="start" fill="#111" >Cr<tspan font-size="5" dy="1.8">2</tspan><tspan dy="-1.8">O</tspan><tspan font-size="5" dy="1.8">3</tspan></text>
<text x="4.60" y="339.90" font-size="18" text-anchor="start" fill="#111" >i</text>
<text x="90.30" y="459.30" font-size="9.6" text-anchor="middle" fill="#111" >Energy (eV)</text>
<text x="0" y="0" font-size="9.6" text-anchor="middle" transform="translate(8.40,375.70) rotate(-90)" fill="#111" >XANES (a.u.)</text>
<clipPath id="cp10"><rect x="188.5" y="320.5" width="150.7" height="115.69999999999999"/></clipPath>
<path d="M188.00,412.50 C189.08,412.50 192.35,412.68 194.50,412.50 C196.65,412.32 198.93,411.83 200.90,411.40 C202.87,410.97 204.50,410.43 206.30,409.90 C208.10,409.37 210.08,408.67 211.70,408.20 C213.32,407.73 214.57,407.63 216.00,407.10 C217.43,406.57 218.93,405.90 220.30,405.00 C221.67,404.10 223.05,402.53 224.20,401.70 C225.35,400.87 226.23,400.00 227.20,400.00 C228.17,400.00 229.07,400.70 230.00,401.70 C230.93,402.70 231.90,404.55 232.80,406.00 C233.70,407.45 234.53,409.97 235.40,410.40 C236.27,410.83 237.20,408.97 238.00,408.60 C238.80,408.23 239.37,407.83 240.20,408.20 C241.03,408.57 242.00,410.87 243.00,410.80 C244.00,410.73 245.13,408.67 246.20,407.80 C247.27,406.93 248.32,405.60 249.40,405.60 C250.48,405.60 251.52,407.00 252.70,407.80 C253.88,408.60 255.25,409.77 256.50,410.40 C257.75,411.03 258.90,411.60 260.20,411.60 C261.50,411.60 262.72,410.78 264.30,410.40 C265.88,410.02 267.90,409.60 269.70,409.30 C271.50,409.00 273.30,408.25 275.10,408.60 C276.90,408.95 278.70,411.18 280.50,411.40 C282.30,411.62 284.10,409.90 285.90,409.90 C287.70,409.90 289.52,411.32 291.30,411.40 C293.08,411.48 294.82,410.65 296.60,410.40 C298.38,410.15 300.20,409.83 302.00,409.90 C303.80,409.97 305.78,410.87 307.40,410.80 C309.02,410.73 310.08,409.50 311.70,409.50 C313.32,409.50 315.30,410.65 317.10,410.80 C318.90,410.95 320.52,410.18 322.50,410.40 C324.48,410.62 327.02,412.03 329.00,412.10 C330.98,412.17 332.57,411.08 334.40,410.80 C336.23,410.52 339.07,410.47 340.00,410.40" fill="none" stroke="#8A96F8" stroke-width="1.2" stroke-opacity="1.0" stroke-linejoin="round" stroke-linecap="round" clip-path="url(#cp10)" />
<path d="M188.00,384.90 C188.72,384.83 190.68,384.63 192.30,384.50 C193.92,384.37 195.90,384.28 197.70,384.10 C199.50,383.92 201.30,383.62 203.10,383.40 C204.90,383.18 207.07,383.27 208.50,382.80 C209.93,382.33 210.63,381.32 211.70,380.60 C212.77,379.88 213.82,379.00 214.90,378.50 C215.98,378.00 217.12,379.12 218.20,377.60 C219.28,376.08 220.33,372.02 221.40,369.40 C222.47,366.78 223.70,363.52 224.60,361.90 C225.50,360.28 226.00,359.60 226.80,359.70 C227.60,359.80 228.50,360.70 229.40,362.50 C230.30,364.30 231.13,367.92 232.20,370.50 C233.27,373.08 234.55,376.03 235.80,378.00 C237.05,379.97 238.50,381.40 239.70,382.30 C240.90,383.20 241.92,383.32 243.00,383.40 C244.08,383.48 244.95,382.68 246.20,382.80 C247.45,382.92 249.07,384.00 250.50,384.10 C251.93,384.20 253.37,383.38 254.80,383.40 C256.23,383.42 257.70,384.45 259.10,384.20 C260.50,383.95 261.97,382.22 263.20,381.90 C264.43,381.58 265.42,381.77 266.50,382.30 C267.58,382.83 268.63,385.02 269.70,385.10 C270.77,385.18 271.28,383.27 272.90,382.80 C274.52,382.33 276.88,382.45 279.40,382.30 C281.92,382.15 285.13,381.90 288.00,381.90 C290.87,381.90 293.72,382.30 296.60,382.30 C299.48,382.30 302.97,381.60 305.30,381.90 C307.63,382.20 308.82,383.95 310.60,384.10 C312.38,384.25 313.65,383.02 316.00,382.80 C318.35,382.58 321.82,382.70 324.70,382.80 C327.58,382.90 330.75,383.22 333.30,383.40 C335.85,383.58 338.88,383.82 340.00,383.90" fill="none" stroke="#E3CB62" stroke-width="1.2" stroke-opacity="1.0" stroke-linejoin="round" stroke-linecap="round" clip-path="url(#cp10)" />
<path d="M188.00,356.10 C188.72,356.10 190.87,356.22 192.30,356.10 C193.73,355.98 195.17,355.52 196.60,355.40 C198.03,355.28 199.47,355.65 200.90,355.40 C202.33,355.15 204.05,354.00 205.20,353.90 C206.35,353.80 206.97,354.30 207.80,354.80 C208.63,355.30 209.37,357.05 210.20,356.90 C211.03,356.75 211.65,355.05 212.80,353.90 C213.95,352.75 215.85,351.37 217.10,350.00 C218.35,348.63 219.22,347.67 220.30,345.70 C221.38,343.73 222.52,340.28 223.60,338.20 C224.68,336.12 225.83,333.67 226.80,333.20 C227.77,332.73 228.50,333.67 229.40,335.40 C230.30,337.13 231.20,340.98 232.20,343.60 C233.20,346.22 234.15,349.32 235.40,351.10 C236.65,352.88 238.33,353.33 239.70,354.30 C241.07,355.27 242.52,356.82 243.60,356.90 C244.68,356.98 245.23,355.15 246.20,354.80 C247.17,354.45 248.40,354.52 249.40,354.80 C250.40,355.08 251.30,356.50 252.20,356.50 C253.10,356.50 253.83,355.17 254.80,354.80 C255.77,354.43 256.92,354.08 258.00,354.30 C259.08,354.52 260.43,355.73 261.30,356.10 C262.17,356.47 262.33,356.72 263.20,356.50 C264.07,356.28 265.42,355.17 266.50,354.80 C267.58,354.43 268.63,354.08 269.70,354.30 C270.77,354.52 271.28,355.73 272.90,356.10 C274.52,356.47 276.88,356.43 279.40,356.50 C281.92,356.57 285.13,356.57 288.00,356.50 C290.87,356.43 293.72,356.10 296.60,356.10 C299.48,356.10 302.42,356.43 305.30,356.50 C308.18,356.57 311.03,356.50 313.90,356.50 C316.77,356.50 319.63,356.50 322.50,356.50 C325.37,356.50 328.18,356.50 331.10,356.50 C334.02,356.50 338.52,356.50 340.00,356.50" fill="none" stroke="#E63A44" stroke-width="1.2" stroke-opacity="1.0" stroke-linejoin="round" stroke-linecap="round" clip-path="url(#cp10)" />
<rect x="219.70" y="329.50" width="15.90" height="91.30" fill="#F4D0EA" style="mix-blend-mode:multiply"/>
<rect x="244.00" y="329.60" width="19.10" height="91.40" fill="#CBEBFB" style="mix-blend-mode:multiply"/>
<rect x="188.50" y="320.50" width="150.70" height="115.70" fill="none" stroke="#3a3a3a" stroke-width="1.2"/>
<line x1="188.50" y1="436.20" x2="188.50" y2="438.40" stroke="#3a3a3a" stroke-width="1"/>
<text x="188.50" y="446.00" font-size="7.3" text-anchor="middle" fill="#111" >0</text>
<line x1="238.73" y1="436.20" x2="238.73" y2="438.40" stroke="#3a3a3a" stroke-width="1"/>
<text x="238.73" y="446.00" font-size="7.3" text-anchor="middle" fill="#111" >2</text>
<line x1="288.97" y1="436.20" x2="288.97" y2="438.40" stroke="#3a3a3a" stroke-width="1"/>
<text x="288.97" y="446.00" font-size="7.3" text-anchor="middle" fill="#111" >4</text>
<line x1="339.20" y1="436.20" x2="339.20" y2="438.40" stroke="#3a3a3a" stroke-width="1"/>
<text x="339.20" y="446.00" font-size="7.3" text-anchor="middle" fill="#111" >6</text>
<line x1="213.62" y1="436.20" x2="213.62" y2="437.70" stroke="#3a3a3a" stroke-width="0.9"/>
<line x1="263.85" y1="436.20" x2="263.85" y2="437.70" stroke="#3a3a3a" stroke-width="0.9"/>
<line x1="314.08" y1="436.20" x2="314.08" y2="437.70" stroke="#3a3a3a" stroke-width="0.9"/>
<text x="337.10" y="352.90" font-size="8.05" text-anchor="end" fill="#111" >NiCoFeCdCr-O</text>
<text x="337.10" y="379.40" font-size="8.05" text-anchor="end" fill="#111" >NiCoFeCr-O</text>
<text x="337.10" y="400.60" font-size="8.05" text-anchor="end" fill="#111" >Cr<tspan font-size="5" dy="1.8">2</tspan><tspan dy="-1.8">O</tspan><tspan font-size="5" dy="1.8">3</tspan></text>
<text x="227.40" y="430.50" font-size="8.05" text-anchor="middle" fill="#111" >Cr-O</text>
<text x="253.30" y="430.50" font-size="8.05" text-anchor="middle" fill="#111" >Cr-M</text>
<text x="172.00" y="337.50" font-size="18" text-anchor="start" fill="#111" >j</text>
<text x="264.40" y="458.60" font-size="9.6" text-anchor="middle" fill="#111" >R (Å)</text>
<text x="0" y="0" font-size="10" text-anchor="middle" transform="translate(177.70,376.80) rotate(-90)" fill="#111" >|FT(<tspan font-style="italic">k</tspan><tspan font-size="6" dy="-3.5">3</tspan><tspan dy="3.5"> χ(</tspan><tspan font-style="italic">k</tspan>))|</text>
<rect x="382.60" y="395.90" width="9.05" height="41.25" fill="#F082D7"/>
<text x="0" y="0" font-size="7.8" text-anchor="start" fill="#111" transform="translate(389.62,434.85) rotate(-90)">-1.011</text>
<rect x="391.65" y="395.90" width="9.05" height="40.51" fill="#94D782"/>
<text x="0" y="0" font-size="7.8" text-anchor="start" fill="#111" transform="translate(398.68,434.11) rotate(-90)">-0.993</text>
<rect x="400.70" y="395.90" width="9.05" height="40.80" fill="#E4D264"/>
<text x="0" y="0" font-size="7.8" text-anchor="start" fill="#111" transform="translate(407.73,434.40) rotate(-90)">-1.000</text>
<rect x="409.75" y="395.90" width="9.05" height="37.37" fill="#73B2E8"/>
<text x="0" y="0" font-size="7.8" text-anchor="start" fill="#111" transform="translate(416.77,430.97) rotate(-90)">-0.916</text>
<rect x="433.80" y="347.39" width="9.05" height="48.51" fill="#F082D7"/>
<text x="0" y="0" font-size="7.8" text-anchor="end" fill="#111" transform="translate(440.82,351.79) rotate(-90)">1.189</text>
<rect x="442.85" y="348.04" width="9.05" height="47.86" fill="#94D782"/>
<text x="0" y="0" font-size="7.8" text-anchor="end" fill="#111" transform="translate(449.87,352.44) rotate(-90)">1.173</text>
<rect x="451.90" y="350.37" width="9.05" height="45.53" fill="#E4D264"/>
<text x="0" y="0" font-size="7.8" text-anchor="end" fill="#111" transform="translate(458.92,354.77) rotate(-90)">1.116</text>
<rect x="460.95" y="345.55" width="9.05" height="50.35" fill="#73B2E8"/>
<text x="0" y="0" font-size="7.8" text-anchor="end" fill="#111" transform="translate(467.97,349.95) rotate(-90)">1.234</text>
<rect x="485.00" y="344.37" width="9.05" height="51.53" fill="#F082D7"/>
<text x="0" y="0" font-size="7.8" text-anchor="end" fill="#111" transform="translate(492.02,348.77) rotate(-90)">1.263</text>
<rect x="494.05" y="344.82" width="9.05" height="51.08" fill="#94D782"/>
<text x="0" y="0" font-size="7.8" text-anchor="end" fill="#111" transform="translate(501.07,349.22) rotate(-90)">1.252</text>
<rect x="503.10" y="345.35" width="9.05" height="50.55" fill="#E4D264"/>
<text x="0" y="0" font-size="7.8" text-anchor="end" fill="#111" transform="translate(510.12,349.75) rotate(-90)">1.239</text>
<rect x="512.15" y="346.49" width="9.05" height="49.41" fill="#73B2E8"/>
<text x="0" y="0" font-size="7.8" text-anchor="end" fill="#111" transform="translate(519.17,350.89) rotate(-90)">1.211</text>
<rect x="536.20" y="338.00" width="9.05" height="57.90" fill="#F082D7"/>
<text x="0" y="0" font-size="7.8" text-anchor="end" fill="#111" transform="translate(543.22,342.40) rotate(-90)">1.419</text>
<rect x="545.25" y="334.29" width="9.05" height="61.61" fill="#94D782"/>
<text x="0" y="0" font-size="7.8" text-anchor="end" fill="#111" transform="translate(552.27,338.69) rotate(-90)">1.510</text>
<rect x="554.30" y="341.96" width="9.05" height="53.94" fill="#E4D264"/>
<text x="0" y="0" font-size="7.8" text-anchor="end" fill="#111" transform="translate(561.32,346.36) rotate(-90)">1.322</text>
<rect x="563.35" y="342.41" width="9.05" height="53.49" fill="#73B2E8"/>
<text x="0" y="0" font-size="7.8" text-anchor="end" fill="#111" transform="translate(570.37,346.81) rotate(-90)">1.311</text>
<rect x="596.45" y="354.28" width="9.05" height="41.62" fill="#94D782"/>
<text x="0" y="0" font-size="7.8" text-anchor="end" fill="#111" transform="translate(603.47,358.68) rotate(-90)">1.020</text>
<rect x="614.55" y="353.14" width="9.05" height="42.76" fill="#73B2E8"/>
<text x="0" y="0" font-size="7.8" text-anchor="end" fill="#111" transform="translate(621.57,357.54) rotate(-90)">1.048</text>
<rect x="656.70" y="324.91" width="9.05" height="70.99" fill="#E4D264"/>
<text x="0" y="0" font-size="7.8" text-anchor="end" fill="#111" transform="translate(663.72,329.31) rotate(-90)">1.740</text>
<rect x="665.75" y="324.79" width="9.05" height="71.11" fill="#73B2E8"/>
<text x="0" y="0" font-size="7.8" text-anchor="end" fill="#111" transform="translate(672.77,329.19) rotate(-90)">1.743</text>
<line x1="375.10" y1="395.90" x2="682.30" y2="395.90" stroke="#555" stroke-width="1.1"/>
<line x1="426.30" y1="323.60" x2="426.30" y2="438.10" stroke="#444" stroke-width="0.95" stroke-dasharray="3,1.2,0.8,1.2"/>
<line x1="477.50" y1="323.60" x2="477.50" y2="395.90" stroke="#444" stroke-width="0.95" stroke-dasharray="3,1.2,0.8,1.2"/>
<line x1="528.70" y1="323.60" x2="528.70" y2="395.90" stroke="#444" stroke-width="0.95" stroke-dasharray="3,1.2,0.8,1.2"/>
<line x1="579.90" y1="323.60" x2="579.90" y2="395.90" stroke="#444" stroke-width="0.95" stroke-dasharray="3,1.2,0.8,1.2"/>
<line x1="631.10" y1="323.60" x2="631.10" y2="395.90" stroke="#444" stroke-width="0.95" stroke-dasharray="3,1.2,0.8,1.2"/>
<rect x="375.10" y="323.60" width="307.20" height="114.50" fill="none" stroke="#3a3a3a" stroke-width="1.2"/>
<line x1="372.90" y1="436.70" x2="375.10" y2="436.70" stroke="#3a3a3a" stroke-width="1"/>
<text x="371.90" y="439.10" font-size="7" text-anchor="end" fill="#111" >-1.0</text>
<line x1="372.90" y1="416.30" x2="375.10" y2="416.30" stroke="#3a3a3a" stroke-width="1"/>
<text x="371.90" y="418.70" font-size="7" text-anchor="end" fill="#111" >-0.5</text>
<line x1="372.90" y1="395.90" x2="375.10" y2="395.90" stroke="#3a3a3a" stroke-width="1"/>
<text x="371.90" y="398.30" font-size="7" text-anchor="end" fill="#111" >0.0</text>
<line x1="372.90" y1="375.50" x2="375.10" y2="375.50" stroke="#3a3a3a" stroke-width="1"/>
<text x="371.90" y="377.90" font-size="7" text-anchor="end" fill="#111" >0.5</text>
<line x1="372.90" y1="355.10" x2="375.10" y2="355.10" stroke="#3a3a3a" stroke-width="1"/>
<text x="371.90" y="357.50" font-size="7" text-anchor="end" fill="#111" >1.0</text>
<line x1="372.90" y1="334.70" x2="375.10" y2="334.70" stroke="#3a3a3a" stroke-width="1"/>
<text x="371.90" y="337.10" font-size="7" text-anchor="end" fill="#111" >1.5</text>
<line x1="373.60" y1="426.50" x2="375.10" y2="426.50" stroke="#3a3a3a" stroke-width="0.9"/>
<line x1="373.60" y1="406.10" x2="375.10" y2="406.10" stroke="#3a3a3a" stroke-width="0.9"/>
<line x1="373.60" y1="385.70" x2="375.10" y2="385.70" stroke="#3a3a3a" stroke-width="0.9"/>
<line x1="373.60" y1="365.30" x2="375.10" y2="365.30" stroke="#3a3a3a" stroke-width="0.9"/>
<line x1="373.60" y1="344.90" x2="375.10" y2="344.90" stroke="#3a3a3a" stroke-width="0.9"/>
<line x1="400.70" y1="438.10" x2="400.70" y2="440.10" stroke="#3a3a3a" stroke-width="1"/>
<text x="400.70" y="448.20" font-size="7.2" text-anchor="middle" fill="#111" >O</text>
<line x1="451.90" y1="438.10" x2="451.90" y2="440.10" stroke="#3a3a3a" stroke-width="1"/>
<text x="451.90" y="448.20" font-size="7.2" text-anchor="middle" fill="#111" >Ni</text>
<line x1="503.10" y1="438.10" x2="503.10" y2="440.10" stroke="#3a3a3a" stroke-width="1"/>
<text x="503.10" y="448.20" font-size="7.2" text-anchor="middle" fill="#111" >Co</text>
<line x1="554.30" y1="438.10" x2="554.30" y2="440.10" stroke="#3a3a3a" stroke-width="1"/>
<text x="554.30" y="448.20" font-size="7.2" text-anchor="middle" fill="#111" >Fe</text>
<line x1="605.50" y1="438.10" x2="605.50" y2="440.10" stroke="#3a3a3a" stroke-width="1"/>
<text x="605.50" y="448.20" font-size="7.2" text-anchor="middle" fill="#111" >Cd</text>
<line x1="656.70" y1="438.10" x2="656.70" y2="440.10" stroke="#3a3a3a" stroke-width="1"/>
<text x="656.70" y="448.20" font-size="7.2" text-anchor="middle" fill="#111" >Cr</text>
<rect x="520.8" y="401.90" width="12" height="5.8" fill="#F082D7"/>
<text x="534.70" y="407.40" font-size="7.4" text-anchor="start" fill="#111" >NiCoFe-O</text>
<rect x="520.8" y="411.50" width="12" height="5.8" fill="#94D782"/>
<text x="534.70" y="417.00" font-size="7.4" text-anchor="start" fill="#111" >NiCoFeCd-O</text>
<rect x="520.8" y="420.90" width="12" height="5.8" fill="#E4D264"/>
<text x="534.70" y="426.40" font-size="7.4" text-anchor="start" fill="#111" >NiCoFeCr-O</text>
<rect x="520.8" y="430.50" width="12" height="5.8" fill="#73B2E8"/>
<text x="534.70" y="436.00" font-size="7.4" text-anchor="start" fill="#111" >NiCoFeCdCr-O</text>
<text x="351.00" y="335.70" font-size="19" text-anchor="start" fill="#111" >k</text>
<text x="0" y="0" font-size="9.3" text-anchor="middle" transform="translate(357.00,382.10) rotate(-90)" fill="#111" >Bader Charge (e)</text>
</svg>
</body></html>
